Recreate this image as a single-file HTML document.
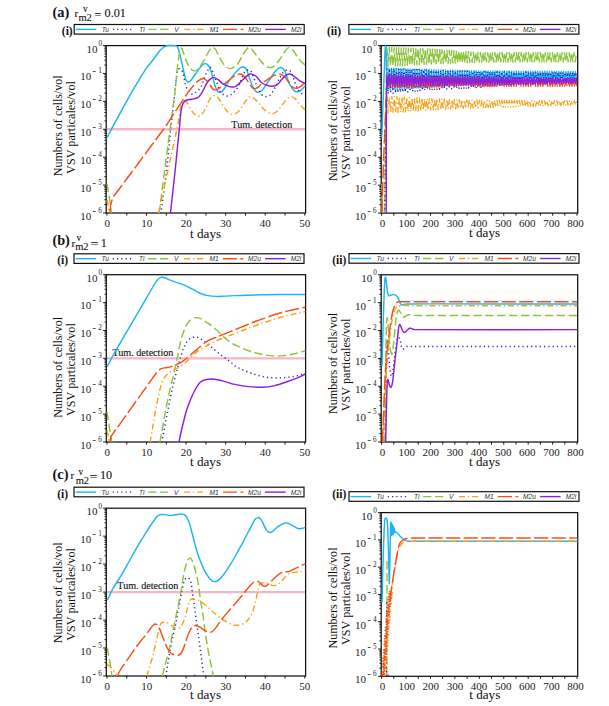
<!DOCTYPE html>
<html><head><meta charset="utf-8"><title>figure</title>
<style>html,body{margin:0;padding:0;background:#fff;overflow:hidden}svg{display:block}</style>
</head><body>
<svg width="609" height="706" viewBox="0 0 609 706">
<rect width="609" height="706" fill="#fff"/>
<clipPath id="clipA1"><rect x="106.2" y="44.6" width="199.40000000000003" height="168.4"/></clipPath>
<path d="M103.00,45.60H106.2 M104.40,65.10H106.2 M104.40,60.19H106.2 M104.40,56.70H106.2 M104.40,54.00H106.2 M104.40,51.79H106.2 M104.40,49.92H106.2 M104.40,48.30H106.2 M104.40,46.88H106.2 M103.00,73.50H106.2 M104.40,93.00H106.2 M104.40,88.09H106.2 M104.40,84.60H106.2 M104.40,81.90H106.2 M104.40,79.69H106.2 M104.40,77.82H106.2 M104.40,76.20H106.2 M104.40,74.78H106.2 M103.00,101.40H106.2 M104.40,120.90H106.2 M104.40,115.99H106.2 M104.40,112.50H106.2 M104.40,109.80H106.2 M104.40,107.59H106.2 M104.40,105.72H106.2 M104.40,104.10H106.2 M104.40,102.68H106.2 M103.00,129.30H106.2 M104.40,148.80H106.2 M104.40,143.89H106.2 M104.40,140.40H106.2 M104.40,137.70H106.2 M104.40,135.49H106.2 M104.40,133.62H106.2 M104.40,132.00H106.2 M104.40,130.58H106.2 M103.00,157.20H106.2 M104.40,176.70H106.2 M104.40,171.79H106.2 M104.40,168.30H106.2 M104.40,165.60H106.2 M104.40,163.39H106.2 M104.40,161.52H106.2 M104.40,159.90H106.2 M104.40,158.48H106.2 M103.00,185.10H106.2 M104.40,204.60H106.2 M104.40,199.69H106.2 M104.40,196.20H106.2 M104.40,193.50H106.2 M104.40,191.29H106.2 M104.40,189.42H106.2 M104.40,187.80H106.2 M104.40,186.38H106.2 M103.00,213.00H106.2 M107.00,213.0V215.60 M126.78,213.0V215.60 M146.56,213.0V215.60 M166.34,213.0V215.60 M186.12,213.0V215.60 M205.90,213.0V215.60 M225.68,213.0V215.60 M245.46,213.0V215.60 M265.24,213.0V215.60 M285.02,213.0V215.60 M304.80,213.0V215.60" stroke="#1a1a1a" stroke-width="1" fill="none"/>
<rect x="106.2" y="45.6" width="199.40" height="167.40" fill="none" stroke="#111" stroke-width="1.25"/>
<text x="97.50" y="52.50" font-family="'Liberation Serif','Times New Roman',serif" font-size="11" text-anchor="end" fill="#1a1a1a">10</text>
<text x="98.40" y="46.00" font-family="'Liberation Serif','Times New Roman',serif" font-size="7.2" fill="#1a1a1a">0</text>
<text x="91.30" y="80.40" font-family="'Liberation Serif','Times New Roman',serif" font-size="11" text-anchor="end" fill="#1a1a1a">10</text>
<text x="92.60" y="74.30" font-family="'Liberation Serif','Times New Roman',serif" font-size="10.2" fill="#1a1a1a">-</text>
<text x="98.20" y="73.40" font-family="'Liberation Serif','Times New Roman',serif" font-size="7.2" fill="#1a1a1a">1</text>
<text x="91.30" y="108.30" font-family="'Liberation Serif','Times New Roman',serif" font-size="11" text-anchor="end" fill="#1a1a1a">10</text>
<text x="92.60" y="102.20" font-family="'Liberation Serif','Times New Roman',serif" font-size="10.2" fill="#1a1a1a">-</text>
<text x="98.20" y="101.30" font-family="'Liberation Serif','Times New Roman',serif" font-size="7.2" fill="#1a1a1a">2</text>
<text x="91.30" y="136.20" font-family="'Liberation Serif','Times New Roman',serif" font-size="11" text-anchor="end" fill="#1a1a1a">10</text>
<text x="92.60" y="130.10" font-family="'Liberation Serif','Times New Roman',serif" font-size="10.2" fill="#1a1a1a">-</text>
<text x="98.20" y="129.20" font-family="'Liberation Serif','Times New Roman',serif" font-size="7.2" fill="#1a1a1a">3</text>
<text x="91.30" y="164.10" font-family="'Liberation Serif','Times New Roman',serif" font-size="11" text-anchor="end" fill="#1a1a1a">10</text>
<text x="92.60" y="158.00" font-family="'Liberation Serif','Times New Roman',serif" font-size="10.2" fill="#1a1a1a">-</text>
<text x="98.20" y="157.10" font-family="'Liberation Serif','Times New Roman',serif" font-size="7.2" fill="#1a1a1a">4</text>
<text x="91.30" y="192.00" font-family="'Liberation Serif','Times New Roman',serif" font-size="11" text-anchor="end" fill="#1a1a1a">10</text>
<text x="92.60" y="185.90" font-family="'Liberation Serif','Times New Roman',serif" font-size="10.2" fill="#1a1a1a">-</text>
<text x="98.20" y="185.00" font-family="'Liberation Serif','Times New Roman',serif" font-size="7.2" fill="#1a1a1a">5</text>
<text x="91.30" y="219.90" font-family="'Liberation Serif','Times New Roman',serif" font-size="11" text-anchor="end" fill="#1a1a1a">10</text>
<text x="92.60" y="213.80" font-family="'Liberation Serif','Times New Roman',serif" font-size="10.2" fill="#1a1a1a">-</text>
<text x="98.20" y="212.90" font-family="'Liberation Serif','Times New Roman',serif" font-size="7.2" fill="#1a1a1a">6</text>
<text x="107.20" y="226.90" font-family="'Liberation Serif','Times New Roman',serif" font-size="11" text-anchor="middle" fill="#1a1a1a">0</text>
<text x="146.72" y="226.90" font-family="'Liberation Serif','Times New Roman',serif" font-size="11" text-anchor="middle" fill="#1a1a1a">10</text>
<text x="186.24" y="226.90" font-family="'Liberation Serif','Times New Roman',serif" font-size="11" text-anchor="middle" fill="#1a1a1a">20</text>
<text x="225.76" y="226.90" font-family="'Liberation Serif','Times New Roman',serif" font-size="11" text-anchor="middle" fill="#1a1a1a">30</text>
<text x="265.28" y="226.90" font-family="'Liberation Serif','Times New Roman',serif" font-size="11" text-anchor="middle" fill="#1a1a1a">40</text>
<text x="304.80" y="226.90" font-family="'Liberation Serif','Times New Roman',serif" font-size="11" text-anchor="middle" fill="#1a1a1a">50</text>
<text x="190.10" y="237.60" font-family="'Liberation Serif','Times New Roman',serif" font-size="11.8" stroke="#111" stroke-width="0.05" textLength="31" lengthAdjust="spacingAndGlyphs" fill="#111">t days</text>
<text transform="translate(62.00,125.80) rotate(-90)" x="-50.5" font-family="'Liberation Serif','Times New Roman',serif" font-size="12.6" textLength="101" lengthAdjust="spacingAndGlyphs" fill="#111">Numbers of cells/vol</text>
<text transform="translate(74.60,127.50) rotate(-90)" x="-46.4" font-family="'Liberation Serif','Times New Roman',serif" font-size="12.6" textLength="92.8" lengthAdjust="spacingAndGlyphs" fill="#111">VSV particales/vol</text>
<clipPath id="clipA2"><rect x="381.2" y="44.6" width="196.50000000000006" height="168.5"/></clipPath>
<path d="M378.00,45.60H381.2 M379.40,65.11H381.2 M379.40,60.20H381.2 M379.40,56.71H381.2 M379.40,54.00H381.2 M379.40,51.79H381.2 M379.40,49.92H381.2 M379.40,48.31H381.2 M379.40,46.88H381.2 M378.00,73.52H381.2 M379.40,93.03H381.2 M379.40,88.11H381.2 M379.40,84.63H381.2 M379.40,81.92H381.2 M379.40,79.71H381.2 M379.40,77.84H381.2 M379.40,76.22H381.2 M379.40,74.79H381.2 M378.00,101.43H381.2 M379.40,120.95H381.2 M379.40,116.03H381.2 M379.40,112.54H381.2 M379.40,109.84H381.2 M379.40,107.63H381.2 M379.40,105.76H381.2 M379.40,104.14H381.2 M379.40,102.71H381.2 M378.00,129.35H381.2 M379.40,148.86H381.2 M379.40,143.95H381.2 M379.40,140.46H381.2 M379.40,137.75H381.2 M379.40,135.54H381.2 M379.40,133.67H381.2 M379.40,132.06H381.2 M379.40,130.63H381.2 M378.00,157.27H381.2 M379.40,176.78H381.2 M379.40,171.86H381.2 M379.40,168.38H381.2 M379.40,165.67H381.2 M379.40,163.46H381.2 M379.40,161.59H381.2 M379.40,159.97H381.2 M379.40,158.54H381.2 M378.00,185.18H381.2 M379.40,204.70H381.2 M379.40,199.78H381.2 M379.40,196.29H381.2 M379.40,193.59H381.2 M379.40,191.38H381.2 M379.40,189.51H381.2 M379.40,187.89H381.2 M379.40,186.46H381.2 M378.00,213.10H381.2 M381.60,213.1V215.70 M393.81,213.1V215.70 M406.03,213.1V215.70 M418.25,213.1V215.70 M430.46,213.1V215.70 M442.68,213.1V215.70 M454.89,213.1V215.70 M467.11,213.1V215.70 M479.32,213.1V215.70 M491.54,213.1V215.70 M503.75,213.1V215.70 M515.97,213.1V215.70 M528.18,213.1V215.70 M540.39,213.1V215.70 M552.61,213.1V215.70 M564.83,213.1V215.70 M577.04,213.1V215.70" stroke="#1a1a1a" stroke-width="1" fill="none"/>
<rect x="381.2" y="45.6" width="196.50" height="167.50" fill="none" stroke="#111" stroke-width="1.25"/>
<text x="372.30" y="52.50" font-family="'Liberation Serif','Times New Roman',serif" font-size="11" text-anchor="end" fill="#1a1a1a">10</text>
<text x="373.20" y="46.00" font-family="'Liberation Serif','Times New Roman',serif" font-size="7.2" fill="#1a1a1a">0</text>
<text x="366.10" y="80.42" font-family="'Liberation Serif','Times New Roman',serif" font-size="11" text-anchor="end" fill="#1a1a1a">10</text>
<text x="367.40" y="74.32" font-family="'Liberation Serif','Times New Roman',serif" font-size="10.2" fill="#1a1a1a">-</text>
<text x="373.00" y="73.42" font-family="'Liberation Serif','Times New Roman',serif" font-size="7.2" fill="#1a1a1a">1</text>
<text x="366.10" y="108.33" font-family="'Liberation Serif','Times New Roman',serif" font-size="11" text-anchor="end" fill="#1a1a1a">10</text>
<text x="367.40" y="102.23" font-family="'Liberation Serif','Times New Roman',serif" font-size="10.2" fill="#1a1a1a">-</text>
<text x="373.00" y="101.33" font-family="'Liberation Serif','Times New Roman',serif" font-size="7.2" fill="#1a1a1a">2</text>
<text x="366.10" y="136.25" font-family="'Liberation Serif','Times New Roman',serif" font-size="11" text-anchor="end" fill="#1a1a1a">10</text>
<text x="367.40" y="130.15" font-family="'Liberation Serif','Times New Roman',serif" font-size="10.2" fill="#1a1a1a">-</text>
<text x="373.00" y="129.25" font-family="'Liberation Serif','Times New Roman',serif" font-size="7.2" fill="#1a1a1a">3</text>
<text x="366.10" y="164.17" font-family="'Liberation Serif','Times New Roman',serif" font-size="11" text-anchor="end" fill="#1a1a1a">10</text>
<text x="367.40" y="158.07" font-family="'Liberation Serif','Times New Roman',serif" font-size="10.2" fill="#1a1a1a">-</text>
<text x="373.00" y="157.17" font-family="'Liberation Serif','Times New Roman',serif" font-size="7.2" fill="#1a1a1a">4</text>
<text x="366.10" y="192.08" font-family="'Liberation Serif','Times New Roman',serif" font-size="11" text-anchor="end" fill="#1a1a1a">10</text>
<text x="367.40" y="185.98" font-family="'Liberation Serif','Times New Roman',serif" font-size="10.2" fill="#1a1a1a">-</text>
<text x="373.00" y="185.08" font-family="'Liberation Serif','Times New Roman',serif" font-size="7.2" fill="#1a1a1a">5</text>
<text x="366.10" y="220.00" font-family="'Liberation Serif','Times New Roman',serif" font-size="11" text-anchor="end" fill="#1a1a1a">10</text>
<text x="367.40" y="213.90" font-family="'Liberation Serif','Times New Roman',serif" font-size="10.2" fill="#1a1a1a">-</text>
<text x="373.00" y="213.00" font-family="'Liberation Serif','Times New Roman',serif" font-size="7.2" fill="#1a1a1a">6</text>
<text x="382.50" y="227.00" font-family="'Liberation Serif','Times New Roman',serif" font-size="11" text-anchor="middle" fill="#1a1a1a">0</text>
<text x="406.64" y="227.00" font-family="'Liberation Serif','Times New Roman',serif" font-size="11" text-anchor="middle" fill="#1a1a1a">100</text>
<text x="430.78" y="227.00" font-family="'Liberation Serif','Times New Roman',serif" font-size="11" text-anchor="middle" fill="#1a1a1a">200</text>
<text x="454.92" y="227.00" font-family="'Liberation Serif','Times New Roman',serif" font-size="11" text-anchor="middle" fill="#1a1a1a">300</text>
<text x="479.06" y="227.00" font-family="'Liberation Serif','Times New Roman',serif" font-size="11" text-anchor="middle" fill="#1a1a1a">400</text>
<text x="503.20" y="227.00" font-family="'Liberation Serif','Times New Roman',serif" font-size="11" text-anchor="middle" fill="#1a1a1a">500</text>
<text x="527.34" y="227.00" font-family="'Liberation Serif','Times New Roman',serif" font-size="11" text-anchor="middle" fill="#1a1a1a">600</text>
<text x="551.48" y="227.00" font-family="'Liberation Serif','Times New Roman',serif" font-size="11" text-anchor="middle" fill="#1a1a1a">700</text>
<text x="575.62" y="227.00" font-family="'Liberation Serif','Times New Roman',serif" font-size="11" text-anchor="middle" fill="#1a1a1a">800</text>
<text x="469.10" y="237.40" font-family="'Liberation Serif','Times New Roman',serif" font-size="11.8" stroke="#111" stroke-width="0.05" textLength="31" lengthAdjust="spacingAndGlyphs" fill="#111">t days</text>
<text transform="translate(337.00,130.60) rotate(-90)" x="-50.5" font-family="'Liberation Serif','Times New Roman',serif" font-size="12.6" textLength="101" lengthAdjust="spacingAndGlyphs" fill="#111">Numbers of cells/vol</text>
<text transform="translate(349.50,132.40) rotate(-90)" x="-46.4" font-family="'Liberation Serif','Times New Roman',serif" font-size="12.6" textLength="92.8" lengthAdjust="spacingAndGlyphs" fill="#111">VSV particales/vol</text>
<clipPath id="clipB1"><rect x="106.3" y="273.7" width="199.3" height="168.3"/></clipPath>
<path d="M103.10,274.70H106.3 M104.50,294.19H106.3 M104.50,289.28H106.3 M104.50,285.80H106.3 M104.50,283.09H106.3 M104.50,280.89H106.3 M104.50,279.02H106.3 M104.50,277.40H106.3 M104.50,275.98H106.3 M103.10,302.58H106.3 M104.50,322.07H106.3 M104.50,317.16H106.3 M104.50,313.68H106.3 M104.50,310.98H106.3 M104.50,308.77H106.3 M104.50,306.90H106.3 M104.50,305.29H106.3 M104.50,303.86H106.3 M103.10,330.47H106.3 M104.50,349.96H106.3 M104.50,345.05H106.3 M104.50,341.56H106.3 M104.50,338.86H106.3 M104.50,336.65H106.3 M104.50,334.79H106.3 M104.50,333.17H106.3 M104.50,331.74H106.3 M103.10,358.35H106.3 M104.50,377.84H106.3 M104.50,372.93H106.3 M104.50,369.45H106.3 M104.50,366.74H106.3 M104.50,364.54H106.3 M104.50,362.67H106.3 M104.50,361.05H106.3 M104.50,359.63H106.3 M103.10,386.23H106.3 M104.50,405.72H106.3 M104.50,400.81H106.3 M104.50,397.33H106.3 M104.50,394.63H106.3 M104.50,392.42H106.3 M104.50,390.55H106.3 M104.50,388.94H106.3 M104.50,387.51H106.3 M103.10,414.12H106.3 M104.50,433.61H106.3 M104.50,428.70H106.3 M104.50,425.21H106.3 M104.50,422.51H106.3 M104.50,420.30H106.3 M104.50,418.44H106.3 M104.50,416.82H106.3 M104.50,415.39H106.3 M103.10,442.00H106.3 M107.00,442.0V444.60 M126.78,442.0V444.60 M146.56,442.0V444.60 M166.34,442.0V444.60 M186.12,442.0V444.60 M205.90,442.0V444.60 M225.68,442.0V444.60 M245.46,442.0V444.60 M265.24,442.0V444.60 M285.02,442.0V444.60 M304.80,442.0V444.60" stroke="#1a1a1a" stroke-width="1" fill="none"/>
<rect x="106.3" y="274.7" width="199.30" height="167.30" fill="none" stroke="#111" stroke-width="1.25"/>
<text x="97.50" y="281.60" font-family="'Liberation Serif','Times New Roman',serif" font-size="11" text-anchor="end" fill="#1a1a1a">10</text>
<text x="98.40" y="275.10" font-family="'Liberation Serif','Times New Roman',serif" font-size="7.2" fill="#1a1a1a">0</text>
<text x="91.30" y="309.48" font-family="'Liberation Serif','Times New Roman',serif" font-size="11" text-anchor="end" fill="#1a1a1a">10</text>
<text x="92.60" y="303.38" font-family="'Liberation Serif','Times New Roman',serif" font-size="10.2" fill="#1a1a1a">-</text>
<text x="98.20" y="302.48" font-family="'Liberation Serif','Times New Roman',serif" font-size="7.2" fill="#1a1a1a">1</text>
<text x="91.30" y="337.37" font-family="'Liberation Serif','Times New Roman',serif" font-size="11" text-anchor="end" fill="#1a1a1a">10</text>
<text x="92.60" y="331.27" font-family="'Liberation Serif','Times New Roman',serif" font-size="10.2" fill="#1a1a1a">-</text>
<text x="98.20" y="330.37" font-family="'Liberation Serif','Times New Roman',serif" font-size="7.2" fill="#1a1a1a">2</text>
<text x="91.30" y="365.25" font-family="'Liberation Serif','Times New Roman',serif" font-size="11" text-anchor="end" fill="#1a1a1a">10</text>
<text x="92.60" y="359.15" font-family="'Liberation Serif','Times New Roman',serif" font-size="10.2" fill="#1a1a1a">-</text>
<text x="98.20" y="358.25" font-family="'Liberation Serif','Times New Roman',serif" font-size="7.2" fill="#1a1a1a">3</text>
<text x="91.30" y="393.13" font-family="'Liberation Serif','Times New Roman',serif" font-size="11" text-anchor="end" fill="#1a1a1a">10</text>
<text x="92.60" y="387.03" font-family="'Liberation Serif','Times New Roman',serif" font-size="10.2" fill="#1a1a1a">-</text>
<text x="98.20" y="386.13" font-family="'Liberation Serif','Times New Roman',serif" font-size="7.2" fill="#1a1a1a">4</text>
<text x="91.30" y="421.02" font-family="'Liberation Serif','Times New Roman',serif" font-size="11" text-anchor="end" fill="#1a1a1a">10</text>
<text x="92.60" y="414.92" font-family="'Liberation Serif','Times New Roman',serif" font-size="10.2" fill="#1a1a1a">-</text>
<text x="98.20" y="414.02" font-family="'Liberation Serif','Times New Roman',serif" font-size="7.2" fill="#1a1a1a">5</text>
<text x="91.30" y="448.90" font-family="'Liberation Serif','Times New Roman',serif" font-size="11" text-anchor="end" fill="#1a1a1a">10</text>
<text x="92.60" y="442.80" font-family="'Liberation Serif','Times New Roman',serif" font-size="10.2" fill="#1a1a1a">-</text>
<text x="98.20" y="441.90" font-family="'Liberation Serif','Times New Roman',serif" font-size="7.2" fill="#1a1a1a">6</text>
<text x="107.20" y="455.90" font-family="'Liberation Serif','Times New Roman',serif" font-size="11" text-anchor="middle" fill="#1a1a1a">0</text>
<text x="146.72" y="455.90" font-family="'Liberation Serif','Times New Roman',serif" font-size="11" text-anchor="middle" fill="#1a1a1a">10</text>
<text x="186.24" y="455.90" font-family="'Liberation Serif','Times New Roman',serif" font-size="11" text-anchor="middle" fill="#1a1a1a">20</text>
<text x="225.76" y="455.90" font-family="'Liberation Serif','Times New Roman',serif" font-size="11" text-anchor="middle" fill="#1a1a1a">30</text>
<text x="265.28" y="455.90" font-family="'Liberation Serif','Times New Roman',serif" font-size="11" text-anchor="middle" fill="#1a1a1a">40</text>
<text x="304.80" y="455.90" font-family="'Liberation Serif','Times New Roman',serif" font-size="11" text-anchor="middle" fill="#1a1a1a">50</text>
<text x="190.00" y="466.10" font-family="'Liberation Serif','Times New Roman',serif" font-size="11.8" stroke="#111" stroke-width="0.05" textLength="31" lengthAdjust="spacingAndGlyphs" fill="#111">t days</text>
<text transform="translate(62.00,367.30) rotate(-90)" x="-50.5" font-family="'Liberation Serif','Times New Roman',serif" font-size="12.6" textLength="101" lengthAdjust="spacingAndGlyphs" fill="#111">Numbers of cells/vol</text>
<text transform="translate(74.60,369.60) rotate(-90)" x="-46.4" font-family="'Liberation Serif','Times New Roman',serif" font-size="12.6" textLength="92.8" lengthAdjust="spacingAndGlyphs" fill="#111">VSV particales/vol</text>
<clipPath id="clipB2"><rect x="381.2" y="273.8" width="196.50000000000006" height="168.2"/></clipPath>
<path d="M378.00,274.80H381.2 M379.40,294.28H381.2 M379.40,289.37H381.2 M379.40,285.89H381.2 M379.40,283.19H381.2 M379.40,280.98H381.2 M379.40,279.12H381.2 M379.40,277.50H381.2 M379.40,276.08H381.2 M378.00,302.67H381.2 M379.40,322.14H381.2 M379.40,317.24H381.2 M379.40,313.76H381.2 M379.40,311.06H381.2 M379.40,308.85H381.2 M379.40,306.98H381.2 M379.40,305.37H381.2 M379.40,303.94H381.2 M378.00,330.53H381.2 M379.40,350.01H381.2 M379.40,345.10H381.2 M379.40,341.62H381.2 M379.40,338.92H381.2 M379.40,336.72H381.2 M379.40,334.85H381.2 M379.40,333.23H381.2 M379.40,331.81H381.2 M378.00,358.40H381.2 M379.40,377.88H381.2 M379.40,372.97H381.2 M379.40,369.49H381.2 M379.40,366.79H381.2 M379.40,364.58H381.2 M379.40,362.72H381.2 M379.40,361.10H381.2 M379.40,359.68H381.2 M378.00,386.27H381.2 M379.40,405.74H381.2 M379.40,400.84H381.2 M379.40,397.36H381.2 M379.40,394.66H381.2 M379.40,392.45H381.2 M379.40,390.58H381.2 M379.40,388.97H381.2 M379.40,387.54H381.2 M378.00,414.13H381.2 M379.40,433.61H381.2 M379.40,428.70H381.2 M379.40,425.22H381.2 M379.40,422.52H381.2 M379.40,420.32H381.2 M379.40,418.45H381.2 M379.40,416.83H381.2 M379.40,415.41H381.2 M378.00,442.00H381.2 M381.60,442.0V444.60 M393.81,442.0V444.60 M406.03,442.0V444.60 M418.25,442.0V444.60 M430.46,442.0V444.60 M442.68,442.0V444.60 M454.89,442.0V444.60 M467.11,442.0V444.60 M479.32,442.0V444.60 M491.54,442.0V444.60 M503.75,442.0V444.60 M515.97,442.0V444.60 M528.18,442.0V444.60 M540.39,442.0V444.60 M552.61,442.0V444.60 M564.83,442.0V444.60 M577.04,442.0V444.60" stroke="#1a1a1a" stroke-width="1" fill="none"/>
<rect x="381.2" y="274.8" width="196.50" height="167.20" fill="none" stroke="#111" stroke-width="1.25"/>
<text x="372.30" y="281.70" font-family="'Liberation Serif','Times New Roman',serif" font-size="11" text-anchor="end" fill="#1a1a1a">10</text>
<text x="373.20" y="275.20" font-family="'Liberation Serif','Times New Roman',serif" font-size="7.2" fill="#1a1a1a">0</text>
<text x="366.10" y="309.57" font-family="'Liberation Serif','Times New Roman',serif" font-size="11" text-anchor="end" fill="#1a1a1a">10</text>
<text x="367.40" y="303.47" font-family="'Liberation Serif','Times New Roman',serif" font-size="10.2" fill="#1a1a1a">-</text>
<text x="373.00" y="302.57" font-family="'Liberation Serif','Times New Roman',serif" font-size="7.2" fill="#1a1a1a">1</text>
<text x="366.10" y="337.43" font-family="'Liberation Serif','Times New Roman',serif" font-size="11" text-anchor="end" fill="#1a1a1a">10</text>
<text x="367.40" y="331.33" font-family="'Liberation Serif','Times New Roman',serif" font-size="10.2" fill="#1a1a1a">-</text>
<text x="373.00" y="330.43" font-family="'Liberation Serif','Times New Roman',serif" font-size="7.2" fill="#1a1a1a">2</text>
<text x="366.10" y="365.30" font-family="'Liberation Serif','Times New Roman',serif" font-size="11" text-anchor="end" fill="#1a1a1a">10</text>
<text x="367.40" y="359.20" font-family="'Liberation Serif','Times New Roman',serif" font-size="10.2" fill="#1a1a1a">-</text>
<text x="373.00" y="358.30" font-family="'Liberation Serif','Times New Roman',serif" font-size="7.2" fill="#1a1a1a">3</text>
<text x="366.10" y="393.17" font-family="'Liberation Serif','Times New Roman',serif" font-size="11" text-anchor="end" fill="#1a1a1a">10</text>
<text x="367.40" y="387.07" font-family="'Liberation Serif','Times New Roman',serif" font-size="10.2" fill="#1a1a1a">-</text>
<text x="373.00" y="386.17" font-family="'Liberation Serif','Times New Roman',serif" font-size="7.2" fill="#1a1a1a">4</text>
<text x="366.10" y="421.03" font-family="'Liberation Serif','Times New Roman',serif" font-size="11" text-anchor="end" fill="#1a1a1a">10</text>
<text x="367.40" y="414.93" font-family="'Liberation Serif','Times New Roman',serif" font-size="10.2" fill="#1a1a1a">-</text>
<text x="373.00" y="414.03" font-family="'Liberation Serif','Times New Roman',serif" font-size="7.2" fill="#1a1a1a">5</text>
<text x="366.10" y="448.90" font-family="'Liberation Serif','Times New Roman',serif" font-size="11" text-anchor="end" fill="#1a1a1a">10</text>
<text x="367.40" y="442.80" font-family="'Liberation Serif','Times New Roman',serif" font-size="10.2" fill="#1a1a1a">-</text>
<text x="373.00" y="441.90" font-family="'Liberation Serif','Times New Roman',serif" font-size="7.2" fill="#1a1a1a">6</text>
<text x="382.50" y="455.90" font-family="'Liberation Serif','Times New Roman',serif" font-size="11" text-anchor="middle" fill="#1a1a1a">0</text>
<text x="406.64" y="455.90" font-family="'Liberation Serif','Times New Roman',serif" font-size="11" text-anchor="middle" fill="#1a1a1a">100</text>
<text x="430.78" y="455.90" font-family="'Liberation Serif','Times New Roman',serif" font-size="11" text-anchor="middle" fill="#1a1a1a">200</text>
<text x="454.92" y="455.90" font-family="'Liberation Serif','Times New Roman',serif" font-size="11" text-anchor="middle" fill="#1a1a1a">300</text>
<text x="479.06" y="455.90" font-family="'Liberation Serif','Times New Roman',serif" font-size="11" text-anchor="middle" fill="#1a1a1a">400</text>
<text x="503.20" y="455.90" font-family="'Liberation Serif','Times New Roman',serif" font-size="11" text-anchor="middle" fill="#1a1a1a">500</text>
<text x="527.34" y="455.90" font-family="'Liberation Serif','Times New Roman',serif" font-size="11" text-anchor="middle" fill="#1a1a1a">600</text>
<text x="551.48" y="455.90" font-family="'Liberation Serif','Times New Roman',serif" font-size="11" text-anchor="middle" fill="#1a1a1a">700</text>
<text x="575.62" y="455.90" font-family="'Liberation Serif','Times New Roman',serif" font-size="11" text-anchor="middle" fill="#1a1a1a">800</text>
<text x="469.10" y="466.10" font-family="'Liberation Serif','Times New Roman',serif" font-size="11.8" stroke="#111" stroke-width="0.05" textLength="31" lengthAdjust="spacingAndGlyphs" fill="#111">t days</text>
<text transform="translate(337.00,363.40) rotate(-90)" x="-50.5" font-family="'Liberation Serif','Times New Roman',serif" font-size="12.6" textLength="101" lengthAdjust="spacingAndGlyphs" fill="#111">Numbers of cells/vol</text>
<text transform="translate(349.50,364.90) rotate(-90)" x="-46.4" font-family="'Liberation Serif','Times New Roman',serif" font-size="12.6" textLength="92.8" lengthAdjust="spacingAndGlyphs" fill="#111">VSV particales/vol</text>
<clipPath id="clipC1"><rect x="106.3" y="507.2" width="199.3" height="168.8"/></clipPath>
<path d="M103.10,508.20H106.3 M104.50,527.75H106.3 M104.50,522.82H106.3 M104.50,519.33H106.3 M104.50,516.62H106.3 M104.50,514.40H106.3 M104.50,512.53H106.3 M104.50,510.91H106.3 M104.50,509.48H106.3 M103.10,536.17H106.3 M104.50,555.71H106.3 M104.50,550.79H106.3 M104.50,547.30H106.3 M104.50,544.59H106.3 M104.50,542.37H106.3 M104.50,540.50H106.3 M104.50,538.88H106.3 M104.50,537.45H106.3 M103.10,564.13H106.3 M104.50,583.68H106.3 M104.50,578.76H106.3 M104.50,575.26H106.3 M104.50,572.55H106.3 M104.50,570.34H106.3 M104.50,568.47H106.3 M104.50,566.84H106.3 M104.50,565.41H106.3 M103.10,592.10H106.3 M104.50,611.65H106.3 M104.50,606.72H106.3 M104.50,603.23H106.3 M104.50,600.52H106.3 M104.50,598.30H106.3 M104.50,596.43H106.3 M104.50,594.81H106.3 M104.50,593.38H106.3 M103.10,620.07H106.3 M104.50,639.61H106.3 M104.50,634.69H106.3 M104.50,631.20H106.3 M104.50,628.49H106.3 M104.50,626.27H106.3 M104.50,624.40H106.3 M104.50,622.78H106.3 M104.50,621.35H106.3 M103.10,648.03H106.3 M104.50,667.58H106.3 M104.50,662.66H106.3 M104.50,659.16H106.3 M104.50,656.45H106.3 M104.50,654.24H106.3 M104.50,652.37H106.3 M104.50,650.74H106.3 M104.50,649.31H106.3 M103.10,676.00H106.3 M107.00,676.0V678.60 M126.78,676.0V678.60 M146.56,676.0V678.60 M166.34,676.0V678.60 M186.12,676.0V678.60 M205.90,676.0V678.60 M225.68,676.0V678.60 M245.46,676.0V678.60 M265.24,676.0V678.60 M285.02,676.0V678.60 M304.80,676.0V678.60" stroke="#1a1a1a" stroke-width="1" fill="none"/>
<rect x="106.3" y="508.2" width="199.30" height="167.80" fill="none" stroke="#111" stroke-width="1.25"/>
<text x="97.50" y="515.10" font-family="'Liberation Serif','Times New Roman',serif" font-size="11" text-anchor="end" fill="#1a1a1a">10</text>
<text x="98.40" y="508.60" font-family="'Liberation Serif','Times New Roman',serif" font-size="7.2" fill="#1a1a1a">0</text>
<text x="91.30" y="543.07" font-family="'Liberation Serif','Times New Roman',serif" font-size="11" text-anchor="end" fill="#1a1a1a">10</text>
<text x="92.60" y="536.97" font-family="'Liberation Serif','Times New Roman',serif" font-size="10.2" fill="#1a1a1a">-</text>
<text x="98.20" y="536.07" font-family="'Liberation Serif','Times New Roman',serif" font-size="7.2" fill="#1a1a1a">1</text>
<text x="91.30" y="571.03" font-family="'Liberation Serif','Times New Roman',serif" font-size="11" text-anchor="end" fill="#1a1a1a">10</text>
<text x="92.60" y="564.93" font-family="'Liberation Serif','Times New Roman',serif" font-size="10.2" fill="#1a1a1a">-</text>
<text x="98.20" y="564.03" font-family="'Liberation Serif','Times New Roman',serif" font-size="7.2" fill="#1a1a1a">2</text>
<text x="91.30" y="599.00" font-family="'Liberation Serif','Times New Roman',serif" font-size="11" text-anchor="end" fill="#1a1a1a">10</text>
<text x="92.60" y="592.90" font-family="'Liberation Serif','Times New Roman',serif" font-size="10.2" fill="#1a1a1a">-</text>
<text x="98.20" y="592.00" font-family="'Liberation Serif','Times New Roman',serif" font-size="7.2" fill="#1a1a1a">3</text>
<text x="91.30" y="626.97" font-family="'Liberation Serif','Times New Roman',serif" font-size="11" text-anchor="end" fill="#1a1a1a">10</text>
<text x="92.60" y="620.87" font-family="'Liberation Serif','Times New Roman',serif" font-size="10.2" fill="#1a1a1a">-</text>
<text x="98.20" y="619.97" font-family="'Liberation Serif','Times New Roman',serif" font-size="7.2" fill="#1a1a1a">4</text>
<text x="91.30" y="654.93" font-family="'Liberation Serif','Times New Roman',serif" font-size="11" text-anchor="end" fill="#1a1a1a">10</text>
<text x="92.60" y="648.83" font-family="'Liberation Serif','Times New Roman',serif" font-size="10.2" fill="#1a1a1a">-</text>
<text x="98.20" y="647.93" font-family="'Liberation Serif','Times New Roman',serif" font-size="7.2" fill="#1a1a1a">5</text>
<text x="91.30" y="682.90" font-family="'Liberation Serif','Times New Roman',serif" font-size="11" text-anchor="end" fill="#1a1a1a">10</text>
<text x="92.60" y="676.80" font-family="'Liberation Serif','Times New Roman',serif" font-size="10.2" fill="#1a1a1a">-</text>
<text x="98.20" y="675.90" font-family="'Liberation Serif','Times New Roman',serif" font-size="7.2" fill="#1a1a1a">6</text>
<text x="107.20" y="689.90" font-family="'Liberation Serif','Times New Roman',serif" font-size="11" text-anchor="middle" fill="#1a1a1a">0</text>
<text x="146.72" y="689.90" font-family="'Liberation Serif','Times New Roman',serif" font-size="11" text-anchor="middle" fill="#1a1a1a">10</text>
<text x="186.24" y="689.90" font-family="'Liberation Serif','Times New Roman',serif" font-size="11" text-anchor="middle" fill="#1a1a1a">20</text>
<text x="225.76" y="689.90" font-family="'Liberation Serif','Times New Roman',serif" font-size="11" text-anchor="middle" fill="#1a1a1a">30</text>
<text x="265.28" y="689.90" font-family="'Liberation Serif','Times New Roman',serif" font-size="11" text-anchor="middle" fill="#1a1a1a">40</text>
<text x="304.80" y="689.90" font-family="'Liberation Serif','Times New Roman',serif" font-size="11" text-anchor="middle" fill="#1a1a1a">50</text>
<text x="190.00" y="699.10" font-family="'Liberation Serif','Times New Roman',serif" font-size="11.8" stroke="#111" stroke-width="0.05" textLength="31" lengthAdjust="spacingAndGlyphs" fill="#111">t days</text>
<text transform="translate(62.00,592.80) rotate(-90)" x="-50.5" font-family="'Liberation Serif','Times New Roman',serif" font-size="12.6" textLength="101" lengthAdjust="spacingAndGlyphs" fill="#111">Numbers of cells/vol</text>
<text transform="translate(74.60,594.40) rotate(-90)" x="-46.4" font-family="'Liberation Serif','Times New Roman',serif" font-size="12.6" textLength="92.8" lengthAdjust="spacingAndGlyphs" fill="#111">VSV particales/vol</text>
<clipPath id="clipC2"><rect x="381.2" y="511.6" width="196.50000000000006" height="164.69999999999993"/></clipPath>
<path d="M378.00,512.60H381.2 M379.40,531.67H381.2 M379.40,526.87H381.2 M379.40,523.46H381.2 M379.40,520.81H381.2 M379.40,518.65H381.2 M379.40,516.83H381.2 M379.40,515.24H381.2 M379.40,513.85H381.2 M378.00,539.88H381.2 M379.40,558.95H381.2 M379.40,554.15H381.2 M379.40,550.74H381.2 M379.40,548.10H381.2 M379.40,545.94H381.2 M379.40,544.11H381.2 M379.40,542.53H381.2 M379.40,541.13H381.2 M378.00,567.17H381.2 M379.40,586.24H381.2 M379.40,581.43H381.2 M379.40,578.02H381.2 M379.40,575.38H381.2 M379.40,573.22H381.2 M379.40,571.39H381.2 M379.40,569.81H381.2 M379.40,568.42H381.2 M378.00,594.45H381.2 M379.40,613.52H381.2 M379.40,608.72H381.2 M379.40,605.31H381.2 M379.40,602.66H381.2 M379.40,600.50H381.2 M379.40,598.68H381.2 M379.40,597.09H381.2 M379.40,595.70H381.2 M378.00,621.73H381.2 M379.40,640.80H381.2 M379.40,636.00H381.2 M379.40,632.59H381.2 M379.40,629.95H381.2 M379.40,627.79H381.2 M379.40,625.96H381.2 M379.40,624.38H381.2 M379.40,622.98H381.2 M378.00,649.02H381.2 M379.40,668.09H381.2 M379.40,663.28H381.2 M379.40,659.87H381.2 M379.40,657.23H381.2 M379.40,655.07H381.2 M379.40,653.24H381.2 M379.40,651.66H381.2 M379.40,650.27H381.2 M378.00,676.30H381.2 M381.60,676.3V678.90 M393.81,676.3V678.90 M406.03,676.3V678.90 M418.25,676.3V678.90 M430.46,676.3V678.90 M442.68,676.3V678.90 M454.89,676.3V678.90 M467.11,676.3V678.90 M479.32,676.3V678.90 M491.54,676.3V678.90 M503.75,676.3V678.90 M515.97,676.3V678.90 M528.18,676.3V678.90 M540.39,676.3V678.90 M552.61,676.3V678.90 M564.83,676.3V678.90 M577.04,676.3V678.90" stroke="#1a1a1a" stroke-width="1" fill="none"/>
<rect x="381.2" y="512.6" width="196.50" height="163.70" fill="none" stroke="#111" stroke-width="1.25"/>
<text x="372.30" y="519.50" font-family="'Liberation Serif','Times New Roman',serif" font-size="11" text-anchor="end" fill="#1a1a1a">10</text>
<text x="373.20" y="513.00" font-family="'Liberation Serif','Times New Roman',serif" font-size="7.2" fill="#1a1a1a">0</text>
<text x="366.10" y="546.78" font-family="'Liberation Serif','Times New Roman',serif" font-size="11" text-anchor="end" fill="#1a1a1a">10</text>
<text x="367.40" y="540.68" font-family="'Liberation Serif','Times New Roman',serif" font-size="10.2" fill="#1a1a1a">-</text>
<text x="373.00" y="539.78" font-family="'Liberation Serif','Times New Roman',serif" font-size="7.2" fill="#1a1a1a">1</text>
<text x="366.10" y="574.07" font-family="'Liberation Serif','Times New Roman',serif" font-size="11" text-anchor="end" fill="#1a1a1a">10</text>
<text x="367.40" y="567.97" font-family="'Liberation Serif','Times New Roman',serif" font-size="10.2" fill="#1a1a1a">-</text>
<text x="373.00" y="567.07" font-family="'Liberation Serif','Times New Roman',serif" font-size="7.2" fill="#1a1a1a">2</text>
<text x="366.10" y="601.35" font-family="'Liberation Serif','Times New Roman',serif" font-size="11" text-anchor="end" fill="#1a1a1a">10</text>
<text x="367.40" y="595.25" font-family="'Liberation Serif','Times New Roman',serif" font-size="10.2" fill="#1a1a1a">-</text>
<text x="373.00" y="594.35" font-family="'Liberation Serif','Times New Roman',serif" font-size="7.2" fill="#1a1a1a">3</text>
<text x="366.10" y="628.63" font-family="'Liberation Serif','Times New Roman',serif" font-size="11" text-anchor="end" fill="#1a1a1a">10</text>
<text x="367.40" y="622.53" font-family="'Liberation Serif','Times New Roman',serif" font-size="10.2" fill="#1a1a1a">-</text>
<text x="373.00" y="621.63" font-family="'Liberation Serif','Times New Roman',serif" font-size="7.2" fill="#1a1a1a">4</text>
<text x="366.10" y="655.92" font-family="'Liberation Serif','Times New Roman',serif" font-size="11" text-anchor="end" fill="#1a1a1a">10</text>
<text x="367.40" y="649.82" font-family="'Liberation Serif','Times New Roman',serif" font-size="10.2" fill="#1a1a1a">-</text>
<text x="373.00" y="648.92" font-family="'Liberation Serif','Times New Roman',serif" font-size="7.2" fill="#1a1a1a">5</text>
<text x="366.10" y="683.20" font-family="'Liberation Serif','Times New Roman',serif" font-size="11" text-anchor="end" fill="#1a1a1a">10</text>
<text x="367.40" y="677.10" font-family="'Liberation Serif','Times New Roman',serif" font-size="10.2" fill="#1a1a1a">-</text>
<text x="373.00" y="676.20" font-family="'Liberation Serif','Times New Roman',serif" font-size="7.2" fill="#1a1a1a">6</text>
<text x="382.50" y="690.20" font-family="'Liberation Serif','Times New Roman',serif" font-size="11" text-anchor="middle" fill="#1a1a1a">0</text>
<text x="406.64" y="690.20" font-family="'Liberation Serif','Times New Roman',serif" font-size="11" text-anchor="middle" fill="#1a1a1a">100</text>
<text x="430.78" y="690.20" font-family="'Liberation Serif','Times New Roman',serif" font-size="11" text-anchor="middle" fill="#1a1a1a">200</text>
<text x="454.92" y="690.20" font-family="'Liberation Serif','Times New Roman',serif" font-size="11" text-anchor="middle" fill="#1a1a1a">300</text>
<text x="479.06" y="690.20" font-family="'Liberation Serif','Times New Roman',serif" font-size="11" text-anchor="middle" fill="#1a1a1a">400</text>
<text x="503.20" y="690.20" font-family="'Liberation Serif','Times New Roman',serif" font-size="11" text-anchor="middle" fill="#1a1a1a">500</text>
<text x="527.34" y="690.20" font-family="'Liberation Serif','Times New Roman',serif" font-size="11" text-anchor="middle" fill="#1a1a1a">600</text>
<text x="551.48" y="690.20" font-family="'Liberation Serif','Times New Roman',serif" font-size="11" text-anchor="middle" fill="#1a1a1a">700</text>
<text x="575.62" y="690.20" font-family="'Liberation Serif','Times New Roman',serif" font-size="11" text-anchor="middle" fill="#1a1a1a">800</text>
<text x="469.30" y="699.10" font-family="'Liberation Serif','Times New Roman',serif" font-size="11.8" stroke="#111" stroke-width="0.05" textLength="31" lengthAdjust="spacingAndGlyphs" fill="#111">t days</text>
<text transform="translate(337.00,598.00) rotate(-90)" x="-50.5" font-family="'Liberation Serif','Times New Roman',serif" font-size="12.6" textLength="101" lengthAdjust="spacingAndGlyphs" fill="#111">Numbers of cells/vol</text>
<text transform="translate(349.50,598.60) rotate(-90)" x="-46.4" font-family="'Liberation Serif','Times New Roman',serif" font-size="12.6" textLength="92.8" lengthAdjust="spacingAndGlyphs" fill="#111">VSV particales/vol</text>
<text x="52.4" y="17.0" font-family="'Liberation Serif','Times New Roman',serif" font-size="14.4" font-weight="bold" fill="#111">(a)</text>
<text x="74.4" y="16.8" font-family="'Liberation Serif','Times New Roman',serif" font-size="11.2" fill="#111" stroke="#111" stroke-width="0.1">r</text>
<text x="83.0" y="11.6" font-family="'Liberation Serif','Times New Roman',serif" font-size="9.5" fill="#111" stroke="#111" stroke-width="0.1">v</text>
<text x="78.4" y="20.6" font-family="'Liberation Serif','Times New Roman',serif" font-size="10.5" fill="#111" stroke="#111" stroke-width="0.1">m2</text>
<text x="94.4" y="19.1" font-family="'Liberation Serif','Times New Roman',serif" font-size="13.5" textLength="6.8" lengthAdjust="spacingAndGlyphs" fill="#111" stroke="#111" stroke-width="0.1">=</text>
<text x="104.6" y="16.8" font-family="'Liberation Serif','Times New Roman',serif" font-size="12.2" fill="#111" stroke="#111" stroke-width="0.1">0.01</text>
<text x="52.4" y="245.4" font-family="'Liberation Serif','Times New Roman',serif" font-size="14.3" font-weight="bold" fill="#111">(b)</text>
<text x="71.6" y="247.2" font-family="'Liberation Serif','Times New Roman',serif" font-size="11.2" fill="#111" stroke="#111" stroke-width="0.1">r</text>
<text x="76.4" y="240.7" font-family="'Liberation Serif','Times New Roman',serif" font-size="9.5" fill="#111" stroke="#111" stroke-width="0.1">v</text>
<text x="75.2" y="250.0" font-family="'Liberation Serif','Times New Roman',serif" font-size="10.5" fill="#111" stroke="#111" stroke-width="0.1">m2</text>
<text x="90.4" y="248.0" font-family="'Liberation Serif','Times New Roman',serif" font-size="13.5" textLength="8.0" lengthAdjust="spacingAndGlyphs" fill="#111" stroke="#111" stroke-width="0.1">=</text>
<text x="100.8" y="247.2" font-family="'Liberation Serif','Times New Roman',serif" font-size="12.2" fill="#111" stroke="#111" stroke-width="0.1">1</text>
<text x="52.5" y="478.9" font-family="'Liberation Serif','Times New Roman',serif" font-size="14.4" font-weight="bold" fill="#111">(c)</text>
<text x="70.4" y="479.0" font-family="'Liberation Serif','Times New Roman',serif" font-size="11.2" fill="#111" stroke="#111" stroke-width="0.1">r</text>
<text x="78.6" y="474.7" font-family="'Liberation Serif','Times New Roman',serif" font-size="9.5" fill="#111" stroke="#111" stroke-width="0.1">v</text>
<text x="75.7" y="483.9" font-family="'Liberation Serif','Times New Roman',serif" font-size="10.5" fill="#111" stroke="#111" stroke-width="0.1">m2</text>
<text x="89.6" y="481.3" font-family="'Liberation Serif','Times New Roman',serif" font-size="13.5" textLength="8.0" lengthAdjust="spacingAndGlyphs" fill="#111" stroke="#111" stroke-width="0.1">=</text>
<text x="100.0" y="479.0" font-family="'Liberation Serif','Times New Roman',serif" font-size="12.2" fill="#111" stroke="#111" stroke-width="0.1">10</text>
<text x="61.8" y="34.8" font-family="'Liberation Serif','Times New Roman',serif" font-size="11.5" font-weight="bold" fill="#111">(i)</text>
<rect x="74.2" y="24.5" width="230.0" height="9.6" fill="#fff" stroke="#111" stroke-width="1.2"/>
<path d="M75.80,29.40h20.5" stroke="#1bb5f3" stroke-width="1.4"/>
<text x="101.80" y="31.80" font-family="'Liberation Sans',Arial,sans-serif" font-size="6.6" font-style="italic" fill="#333">Tu</text>
<path d="M112.90,29.40h20.5" stroke="#2a1fb8" stroke-width="1.4" stroke-dasharray="1.2 3.1"/>
<text x="139.30" y="31.80" font-family="'Liberation Sans',Arial,sans-serif" font-size="6.6" font-style="italic" fill="#333">Ti</text>
<path d="M148.30,29.40h20.5" stroke="#8cc43c" stroke-width="1.4" stroke-dasharray="8.3 3.6"/>
<text x="174.30" y="31.80" font-family="'Liberation Sans',Arial,sans-serif" font-size="6.6" font-style="italic" fill="#333">V</text>
<path d="M184.20,29.40h20.5" stroke="#f7a21b" stroke-width="1.4" stroke-dasharray="6 2.9 1.3 2.9"/>
<text x="209.80" y="31.80" font-family="'Liberation Sans',Arial,sans-serif" font-size="6.6" font-style="italic" fill="#333">M1</text>
<path d="M223.00,29.40h20.5" stroke="#fb4e14" stroke-width="1.4" stroke-dasharray="14.2 3.4"/>
<text x="248.20" y="31.80" font-family="'Liberation Sans',Arial,sans-serif" font-size="6.6" font-style="italic" fill="#333">M2u</text>
<path d="M265.30,29.40h20.5" stroke="#8c1ee0" stroke-width="1.4"/>
<text x="290.90" y="31.80" font-family="'Liberation Sans',Arial,sans-serif" font-size="6.6" font-style="italic" fill="#333">M2i</text>
<text x="327.0" y="34.6" font-family="'Liberation Serif','Times New Roman',serif" font-size="11.5" font-weight="bold" fill="#111">(ii)</text>
<rect x="348.9" y="24.5" width="230.0" height="9.6" fill="#fff" stroke="#111" stroke-width="1.2"/>
<path d="M350.50,29.40h20.5" stroke="#1bb5f3" stroke-width="1.4"/>
<text x="376.50" y="31.80" font-family="'Liberation Sans',Arial,sans-serif" font-size="6.6" font-style="italic" fill="#333">Tu</text>
<path d="M387.60,29.40h20.5" stroke="#2a1fb8" stroke-width="1.4" stroke-dasharray="1.2 3.1"/>
<text x="414.00" y="31.80" font-family="'Liberation Sans',Arial,sans-serif" font-size="6.6" font-style="italic" fill="#333">Ti</text>
<path d="M423.00,29.40h20.5" stroke="#8cc43c" stroke-width="1.4" stroke-dasharray="8.3 3.6"/>
<text x="449.00" y="31.80" font-family="'Liberation Sans',Arial,sans-serif" font-size="6.6" font-style="italic" fill="#333">V</text>
<path d="M458.90,29.40h20.5" stroke="#f7a21b" stroke-width="1.4" stroke-dasharray="6 2.9 1.3 2.9"/>
<text x="484.50" y="31.80" font-family="'Liberation Sans',Arial,sans-serif" font-size="6.6" font-style="italic" fill="#333">M1</text>
<path d="M497.70,29.40h20.5" stroke="#fb4e14" stroke-width="1.4" stroke-dasharray="14.2 3.4"/>
<text x="522.90" y="31.80" font-family="'Liberation Sans',Arial,sans-serif" font-size="6.6" font-style="italic" fill="#333">M2u</text>
<path d="M540.00,29.40h20.5" stroke="#8c1ee0" stroke-width="1.4"/>
<text x="565.60" y="31.80" font-family="'Liberation Sans',Arial,sans-serif" font-size="6.6" font-style="italic" fill="#333">M2i</text>
<text x="57.2" y="264.2" font-family="'Liberation Serif','Times New Roman',serif" font-size="11.5" font-weight="bold" fill="#111">(i)</text>
<rect x="74.0" y="253.8" width="230.0" height="9.6" fill="#fff" stroke="#111" stroke-width="1.2"/>
<path d="M75.60,258.70h20.5" stroke="#1bb5f3" stroke-width="1.4"/>
<text x="101.60" y="261.10" font-family="'Liberation Sans',Arial,sans-serif" font-size="6.6" font-style="italic" fill="#333">Tu</text>
<path d="M112.70,258.70h20.5" stroke="#2a1fb8" stroke-width="1.4" stroke-dasharray="1.2 3.1"/>
<text x="139.10" y="261.10" font-family="'Liberation Sans',Arial,sans-serif" font-size="6.6" font-style="italic" fill="#333">Ti</text>
<path d="M148.10,258.70h20.5" stroke="#8cc43c" stroke-width="1.4" stroke-dasharray="8.3 3.6"/>
<text x="174.10" y="261.10" font-family="'Liberation Sans',Arial,sans-serif" font-size="6.6" font-style="italic" fill="#333">V</text>
<path d="M184.00,258.70h20.5" stroke="#f7a21b" stroke-width="1.4" stroke-dasharray="6 2.9 1.3 2.9"/>
<text x="209.60" y="261.10" font-family="'Liberation Sans',Arial,sans-serif" font-size="6.6" font-style="italic" fill="#333">M1</text>
<path d="M222.80,258.70h20.5" stroke="#fb4e14" stroke-width="1.4" stroke-dasharray="14.2 3.4"/>
<text x="248.00" y="261.10" font-family="'Liberation Sans',Arial,sans-serif" font-size="6.6" font-style="italic" fill="#333">M2u</text>
<path d="M265.10,258.70h20.5" stroke="#8c1ee0" stroke-width="1.4"/>
<text x="290.70" y="261.10" font-family="'Liberation Sans',Arial,sans-serif" font-size="6.6" font-style="italic" fill="#333">M2i</text>
<text x="332.2" y="263.9" font-family="'Liberation Serif','Times New Roman',serif" font-size="11.5" font-weight="bold" fill="#111">(ii)</text>
<rect x="349.0" y="253.6" width="230.0" height="9.6" fill="#fff" stroke="#111" stroke-width="1.2"/>
<path d="M350.60,258.50h20.5" stroke="#1bb5f3" stroke-width="1.4"/>
<text x="376.60" y="260.90" font-family="'Liberation Sans',Arial,sans-serif" font-size="6.6" font-style="italic" fill="#333">Tu</text>
<path d="M387.70,258.50h20.5" stroke="#2a1fb8" stroke-width="1.4" stroke-dasharray="1.2 3.1"/>
<text x="414.10" y="260.90" font-family="'Liberation Sans',Arial,sans-serif" font-size="6.6" font-style="italic" fill="#333">Ti</text>
<path d="M423.10,258.50h20.5" stroke="#8cc43c" stroke-width="1.4" stroke-dasharray="8.3 3.6"/>
<text x="449.10" y="260.90" font-family="'Liberation Sans',Arial,sans-serif" font-size="6.6" font-style="italic" fill="#333">V</text>
<path d="M459.00,258.50h20.5" stroke="#f7a21b" stroke-width="1.4" stroke-dasharray="6 2.9 1.3 2.9"/>
<text x="484.60" y="260.90" font-family="'Liberation Sans',Arial,sans-serif" font-size="6.6" font-style="italic" fill="#333">M1</text>
<path d="M497.80,258.50h20.5" stroke="#fb4e14" stroke-width="1.4" stroke-dasharray="14.2 3.4"/>
<text x="523.00" y="260.90" font-family="'Liberation Sans',Arial,sans-serif" font-size="6.6" font-style="italic" fill="#333">M2u</text>
<path d="M540.10,258.50h20.5" stroke="#8c1ee0" stroke-width="1.4"/>
<text x="565.70" y="260.90" font-family="'Liberation Sans',Arial,sans-serif" font-size="6.6" font-style="italic" fill="#333">M2i</text>
<text x="57.2" y="497.6" font-family="'Liberation Serif','Times New Roman',serif" font-size="11.5" font-weight="bold" fill="#111">(i)</text>
<rect x="74.0" y="487.2" width="230.0" height="9.6" fill="#fff" stroke="#111" stroke-width="1.2"/>
<path d="M75.60,492.10h20.5" stroke="#1bb5f3" stroke-width="1.4"/>
<text x="101.60" y="494.50" font-family="'Liberation Sans',Arial,sans-serif" font-size="6.6" font-style="italic" fill="#333">Tu</text>
<path d="M112.70,492.10h20.5" stroke="#2a1fb8" stroke-width="1.4" stroke-dasharray="1.2 3.1"/>
<text x="139.10" y="494.50" font-family="'Liberation Sans',Arial,sans-serif" font-size="6.6" font-style="italic" fill="#333">Ti</text>
<path d="M148.10,492.10h20.5" stroke="#8cc43c" stroke-width="1.4" stroke-dasharray="8.3 3.6"/>
<text x="174.10" y="494.50" font-family="'Liberation Sans',Arial,sans-serif" font-size="6.6" font-style="italic" fill="#333">V</text>
<path d="M184.00,492.10h20.5" stroke="#f7a21b" stroke-width="1.4" stroke-dasharray="6 2.9 1.3 2.9"/>
<text x="209.60" y="494.50" font-family="'Liberation Sans',Arial,sans-serif" font-size="6.6" font-style="italic" fill="#333">M1</text>
<path d="M222.80,492.10h20.5" stroke="#fb4e14" stroke-width="1.4" stroke-dasharray="14.2 3.4"/>
<text x="248.00" y="494.50" font-family="'Liberation Sans',Arial,sans-serif" font-size="6.6" font-style="italic" fill="#333">M2u</text>
<path d="M265.10,492.10h20.5" stroke="#8c1ee0" stroke-width="1.4"/>
<text x="290.70" y="494.50" font-family="'Liberation Sans',Arial,sans-serif" font-size="6.6" font-style="italic" fill="#333">M2i</text>
<text x="332.2" y="498.4" font-family="'Liberation Serif','Times New Roman',serif" font-size="11.5" font-weight="bold" fill="#111">(ii)</text>
<rect x="349.0" y="491.7" width="230.0" height="9.6" fill="#fff" stroke="#111" stroke-width="1.2"/>
<path d="M350.60,496.60h20.5" stroke="#1bb5f3" stroke-width="1.4"/>
<text x="376.60" y="499.00" font-family="'Liberation Sans',Arial,sans-serif" font-size="6.6" font-style="italic" fill="#333">Tu</text>
<path d="M387.70,496.60h20.5" stroke="#2a1fb8" stroke-width="1.4" stroke-dasharray="1.2 3.1"/>
<text x="414.10" y="499.00" font-family="'Liberation Sans',Arial,sans-serif" font-size="6.6" font-style="italic" fill="#333">Ti</text>
<path d="M423.10,496.60h20.5" stroke="#8cc43c" stroke-width="1.4" stroke-dasharray="8.3 3.6"/>
<text x="449.10" y="499.00" font-family="'Liberation Sans',Arial,sans-serif" font-size="6.6" font-style="italic" fill="#333">V</text>
<path d="M459.00,496.60h20.5" stroke="#f7a21b" stroke-width="1.4" stroke-dasharray="6 2.9 1.3 2.9"/>
<text x="484.60" y="499.00" font-family="'Liberation Sans',Arial,sans-serif" font-size="6.6" font-style="italic" fill="#333">M1</text>
<path d="M497.80,496.60h20.5" stroke="#fb4e14" stroke-width="1.4" stroke-dasharray="14.2 3.4"/>
<text x="523.00" y="499.00" font-family="'Liberation Sans',Arial,sans-serif" font-size="6.6" font-style="italic" fill="#333">M2u</text>
<path d="M540.10,496.60h20.5" stroke="#8c1ee0" stroke-width="1.4"/>
<text x="565.70" y="499.00" font-family="'Liberation Sans',Arial,sans-serif" font-size="6.6" font-style="italic" fill="#333">M2i</text>
<path d="M106.80,129.30H305.00" stroke="#f7b5c4" stroke-width="2.4"/>
<text x="231.3" y="127.7" font-family="'Liberation Serif','Times New Roman',serif" font-size="10" stroke="#111" stroke-width="0.12" textLength="61" lengthAdjust="spacingAndGlyphs" fill="#111">Tum. detection</text>
<path d="M107.20,137.30 C109.20,133.47 111.16,129.61 113.20,125.80 C115.89,120.78 118.67,115.80 121.40,110.80 C124.13,105.80 126.79,100.76 129.60,95.80 C132.26,91.12 135.00,86.49 137.80,81.90 C140.47,77.53 143.06,73.10 146.00,68.90 C148.57,65.22 151.58,61.87 154.30,58.30 C156.25,55.74 157.85,52.89 160.00,50.50 C161.47,48.86 163.14,47.30 165.10,46.30 C166.64,45.51 168.47,45.42 170.20,45.30 C171.90,45.18 173.63,45.29 175.30,45.60 C176.00,45.73 176.81,46.00 177.20,46.60 C178.15,48.07 178.59,49.82 179.10,51.50 C179.86,54.00 180.40,56.56 181.00,59.10 C181.70,62.09 182.31,65.11 183.00,68.10 C183.81,71.57 184.41,75.11 185.50,78.50 C185.89,79.71 186.32,81.13 187.40,81.80 C188.15,82.27 189.32,81.86 190.00,81.30 C191.38,80.16 192.13,78.43 193.20,77.00 C194.47,75.30 195.73,73.60 197.00,71.90 C198.27,70.20 199.42,68.41 200.80,66.80 C201.63,65.83 202.54,64.91 203.60,64.20 C204.18,63.81 204.93,63.42 205.60,63.60 C206.72,63.90 207.81,64.57 208.50,65.50 C209.61,67.00 210.19,68.84 210.80,70.60 C211.69,73.18 212.25,75.87 213.00,78.50 C213.75,81.14 214.39,83.81 215.30,86.40 C215.89,88.09 216.25,90.02 217.50,91.30 C218.32,92.13 219.81,92.52 220.90,92.10 C222.40,91.53 223.34,89.98 224.30,88.70 C225.62,86.93 226.49,84.85 227.70,83.00 C228.96,81.08 230.32,79.23 231.70,77.40 C233.16,75.47 234.57,73.49 236.20,71.70 C237.61,70.15 238.97,68.43 240.80,67.40 C241.79,66.84 243.13,66.82 244.20,67.20 C245.18,67.55 245.88,68.50 246.40,69.40 C247.21,70.82 247.56,72.46 248.10,74.00 C248.89,76.26 249.55,78.56 250.40,80.80 C251.28,83.10 252.08,85.46 253.30,87.60 C254.23,89.23 255.08,91.27 256.80,92.00 C258.21,92.60 260.07,91.92 261.30,91.00 C263.24,89.55 264.38,87.26 265.80,85.30 C267.41,83.09 268.88,80.77 270.40,78.50 C271.91,76.24 273.16,73.79 274.90,71.70 C276.18,70.16 277.56,68.49 279.40,67.70 C280.46,67.25 281.86,67.64 282.80,68.30 C283.92,69.09 284.54,70.45 285.10,71.70 C286.08,73.88 286.53,76.27 287.40,78.50 C288.44,81.17 289.31,83.95 290.80,86.40 C291.98,88.34 293.28,90.47 295.30,91.50 C296.64,92.19 298.41,91.60 299.80,91.00 C301.17,90.41 302.15,89.15 303.20,88.10 C304.05,87.25 304.73,86.23 305.50,85.30" fill="none" stroke="#1bb5f3" stroke-width="1.45" clip-path="url(#clipA1)" stroke-linejoin="round"/>
<path d="M160.80,213.80 C161.87,205.87 162.97,197.94 164.00,190.00 C165.21,180.67 166.47,171.35 167.50,162.00 C168.74,150.68 169.61,139.32 170.80,128.00 C171.38,122.46 172.17,116.94 172.80,111.40 C173.47,105.47 174.04,99.53 174.70,93.60 C175.31,88.06 175.87,82.52 176.60,77.00 C176.94,74.42 176.61,71.56 177.90,69.30 C178.41,68.40 180.18,68.67 181.00,69.30 C182.16,70.19 182.59,71.80 183.00,73.20 C184.10,76.93 184.43,80.86 185.50,84.60 C186.13,86.81 186.82,89.08 188.10,91.00 C189.02,92.38 190.27,93.92 191.90,94.20 C193.30,94.44 194.59,93.18 195.70,92.30 C197.59,90.81 199.59,89.28 200.80,87.20 C202.62,84.06 203.19,80.34 204.60,77.00 C205.76,74.27 207.03,71.58 208.50,69.00 C208.91,68.28 209.61,66.62 210.20,67.20 C212.01,68.97 212.60,71.67 213.60,74.00 C214.87,76.95 215.87,80.00 217.00,83.00 C218.14,86.03 218.79,89.29 220.40,92.10 C221.13,93.37 222.53,94.17 223.80,94.90 C224.83,95.49 226.01,96.00 227.20,96.00 C228.39,96.00 229.57,95.49 230.60,94.90 C231.87,94.17 233.00,93.17 234.00,92.10 C235.28,90.72 236.43,89.21 237.40,87.60 C238.71,85.43 239.74,83.10 240.80,80.80 C242.00,78.20 242.67,75.33 244.20,72.90 C244.99,71.64 246.20,70.52 247.60,70.00 C248.49,69.67 249.77,69.89 250.40,70.60 C251.81,72.18 252.38,74.35 253.20,76.30 C254.45,79.25 255.34,82.35 256.60,85.30 C257.44,87.26 258.51,89.11 259.50,91.00 C260.08,92.11 260.36,93.47 261.30,94.30 C262.56,95.42 264.13,96.36 265.80,96.60 C267.17,96.79 268.75,96.40 269.80,95.50 C271.57,94.00 272.62,91.80 273.80,89.80 C275.09,87.62 276.07,85.27 277.20,83.00 C278.33,80.73 279.29,78.37 280.60,76.20 C281.57,74.59 282.61,72.97 284.00,71.70 C284.94,70.85 286.13,70.00 287.40,70.00 C288.67,70.00 290.05,70.68 290.80,71.70 C292.24,73.68 292.73,76.21 293.60,78.50 C294.59,81.11 295.24,83.86 296.40,86.40 C297.32,88.41 298.36,90.42 299.80,92.10 C300.68,93.12 302.04,93.61 303.20,94.30 C303.94,94.74 304.73,95.10 305.50,95.50" fill="none" stroke="#2a1fb8" stroke-width="1.45" stroke-dasharray="1.2 3.1" clip-path="url(#clipA1)" stroke-linejoin="round"/>
<path d="M107.00,184.00 C107.83,189.00 108.72,193.99 109.50,199.00 C110.25,203.83 110.90,208.67 111.60,213.50" fill="none" stroke="#8cc43c" stroke-width="1.45" stroke-dasharray="8.3 3.6" clip-path="url(#clipA1)" stroke-linejoin="round"/>
<path d="M159.20,213.80 C160.00,207.20 160.77,200.60 161.60,194.00 C163.03,182.66 164.52,171.33 166.00,160.00 C167.39,149.33 168.78,138.66 170.20,128.00 C171.05,121.63 171.98,115.27 172.80,108.90 C173.68,102.11 174.54,95.31 175.30,88.50 C176.01,82.11 176.47,75.69 177.20,69.30 C177.74,64.62 178.26,59.93 179.10,55.30 C179.53,52.92 179.27,49.99 181.00,48.30 C181.90,47.42 182.52,50.34 183.00,51.50 C184.03,53.96 184.48,56.63 185.50,59.10 C186.59,61.75 187.71,64.42 189.30,66.80 C190.31,68.31 191.52,69.90 193.20,70.60 C194.38,71.09 195.94,70.71 197.00,70.00 C198.63,68.91 199.67,67.11 200.80,65.50 C202.18,63.53 203.32,61.40 204.50,59.30 C206.08,56.49 207.30,53.47 209.10,50.80 C209.99,49.47 210.95,47.82 212.50,47.40 C213.55,47.11 214.66,48.22 215.30,49.10 C216.79,51.15 217.49,53.67 218.70,55.90 C219.93,58.17 221.12,60.48 222.60,62.60 C223.76,64.27 225.02,65.92 226.60,67.20 C227.55,67.97 228.77,68.60 230.00,68.60 C231.41,68.60 232.85,68.01 234.00,67.20 C235.75,65.96 237.25,64.34 238.50,62.60 C240.27,60.14 241.43,57.29 243.00,54.70 C244.06,52.95 245.05,51.14 246.40,49.60 C247.22,48.67 248.17,47.28 249.40,47.40 C250.81,47.54 251.66,49.14 252.60,50.20 C254.07,51.85 255.25,53.75 256.60,55.50 C258.15,57.51 259.63,59.59 261.30,61.50 C262.70,63.10 264.05,64.81 265.80,66.00 C267.15,66.92 268.77,67.79 270.40,67.70 C272.07,67.61 273.68,66.64 274.90,65.50 C277.17,63.37 278.78,60.63 280.60,58.10 C282.19,55.89 283.41,53.43 285.10,51.30 C286.26,49.84 287.26,47.66 289.10,47.40 C290.69,47.18 291.95,49.00 293.00,50.20 C294.79,52.25 295.89,54.81 297.50,57.00 C298.93,58.95 300.41,60.87 302.10,62.60 C303.10,63.62 304.37,64.33 305.50,65.20" fill="none" stroke="#8cc43c" stroke-width="1.45" stroke-dasharray="8.3 3.6" clip-path="url(#clipA1)" stroke-linejoin="round"/>
<path d="M107.00,200.00 C107.40,202.00 107.87,203.99 108.20,206.00 C108.61,208.49 108.87,211.00 109.20,213.50" fill="none" stroke="#f7a21b" stroke-width="1.45" stroke-dasharray="6 2.9 1.3 2.9" clip-path="url(#clipA1)" stroke-linejoin="round"/>
<path d="M158.40,213.80 C159.97,206.67 161.53,199.53 163.10,192.40 C164.67,185.27 166.23,178.13 167.80,171.00 C169.36,163.90 170.96,156.81 172.50,149.70 C173.89,143.30 175.28,136.91 176.60,130.50 C177.25,127.34 177.85,124.18 178.40,121.00 C178.92,118.01 179.27,114.99 179.80,112.00 C180.24,109.49 180.62,106.96 181.30,104.50 C181.75,102.87 181.61,100.38 183.20,99.80 C184.61,99.29 185.85,101.34 186.80,102.50 C188.37,104.42 189.23,106.83 190.60,108.90 C191.77,110.67 192.87,112.53 194.40,114.00 C195.49,115.05 196.79,116.30 198.30,116.30 C199.78,116.30 201.13,115.12 202.10,114.00 C203.73,112.13 204.76,109.80 205.90,107.60 C207.09,105.30 207.76,102.72 209.10,100.50 C210.15,98.76 211.16,96.66 213.00,95.80 C214.24,95.22 215.88,96.00 217.00,96.80 C218.49,97.86 219.37,99.59 220.40,101.10 C221.64,102.93 222.54,104.98 223.80,106.80 C225.18,108.79 226.43,110.96 228.30,112.50 C229.54,113.52 231.20,114.20 232.80,114.20 C234.43,114.20 236.13,113.53 237.40,112.50 C239.28,110.97 240.49,108.76 241.90,106.80 C243.49,104.59 244.66,102.09 246.40,100.00 C247.52,98.66 248.67,96.84 250.40,96.60 C251.95,96.39 253.27,97.93 254.50,98.90 C256.19,100.22 257.67,101.80 259.10,103.40 C260.71,105.21 261.90,107.38 263.60,109.10 C264.92,110.44 266.42,111.66 268.10,112.50 C269.48,113.19 271.07,113.80 272.60,113.60 C274.30,113.38 275.91,112.42 277.20,111.30 C279.01,109.73 280.21,107.57 281.70,105.70 C283.21,103.81 284.49,101.71 286.20,100.00 C287.55,98.65 288.91,96.83 290.80,96.60 C292.47,96.40 294.03,97.79 295.30,98.90 C297.10,100.48 298.22,102.70 299.80,104.50 C301.22,106.11 302.73,107.64 304.30,109.10 C304.64,109.42 305.10,109.57 305.50,109.80" fill="none" stroke="#f7a21b" stroke-width="1.45" stroke-dasharray="6 2.9 1.3 2.9" clip-path="url(#clipA1)" stroke-linejoin="round"/>
<path d="M109.60,213.50 C109.93,211.00 110.19,208.49 110.60,206.00 C110.85,204.48 111.16,202.97 111.60,201.50 C112.03,200.03 112.39,198.50 113.20,197.20 C115.21,193.96 117.73,191.07 120.00,188.00 C123.33,183.50 126.67,179.00 130.00,174.50 C133.33,170.00 136.67,165.50 140.00,161.00 C143.33,156.50 146.67,152.00 150.00,147.50 C153.33,143.00 156.68,138.51 160.00,134.00 C162.21,131.01 164.50,128.07 166.60,125.00 C168.77,121.83 170.71,118.52 172.80,115.30 C175.31,111.45 177.86,107.63 180.40,103.80 C182.96,99.96 185.42,96.05 188.10,92.30 C189.69,90.08 191.39,87.94 193.20,85.90 C194.80,84.10 196.35,82.21 198.30,80.80 C199.81,79.70 201.54,78.50 203.40,78.50 C204.77,78.50 205.83,79.83 206.80,80.80 C208.13,82.13 209.04,83.82 210.20,85.30 C211.31,86.72 212.02,88.63 213.60,89.50 C214.74,90.13 216.32,89.85 217.50,89.30 C219.46,88.39 220.90,86.64 222.60,85.30 C224.50,83.80 226.40,82.30 228.30,80.80 C230.20,79.30 231.93,77.55 234.00,76.30 C235.73,75.26 237.60,74.27 239.60,74.00 C240.78,73.84 242.05,74.39 243.00,75.10 C244.40,76.15 245.37,77.68 246.40,79.10 C247.65,80.82 248.51,82.81 249.80,84.50 C250.92,85.96 251.86,87.90 253.60,88.50 C255.01,88.99 256.63,88.08 257.90,87.30 C259.69,86.20 260.86,84.32 262.50,83.00 C264.27,81.57 266.19,80.33 268.10,79.10 C269.96,77.90 271.78,76.61 273.80,75.70 C275.58,74.90 277.45,73.90 279.40,74.00 C281.10,74.08 282.72,75.09 284.00,76.20 C285.83,77.79 286.98,80.02 288.50,81.90 C289.98,83.72 291.07,85.97 293.00,87.30 C294.25,88.16 296.01,88.43 297.50,88.10 C299.25,87.71 300.67,86.39 302.10,85.30 C303.36,84.34 304.37,83.10 305.50,82.00" fill="none" stroke="#fb4e14" stroke-width="1.45" stroke-dasharray="14.2 3.4" clip-path="url(#clipA1)" stroke-linejoin="round"/>
<path d="M170.40,213.80 C171.27,205.87 172.14,197.93 173.00,190.00 C173.84,182.33 174.70,174.67 175.50,167.00 C176.37,158.67 177.17,150.33 178.00,142.00 C178.57,136.33 179.17,130.67 179.70,125.00 C179.97,122.17 180.08,119.32 180.40,116.50 C180.74,113.52 181.03,110.52 181.70,107.60 C182.10,105.83 182.59,104.01 183.60,102.50 C184.35,101.38 185.54,100.49 186.80,100.00 C188.40,99.38 190.22,99.63 191.90,99.30 C193.62,98.96 195.41,98.75 197.00,98.00 C198.18,97.45 199.19,96.52 200.00,95.50 C201.35,93.79 202.35,91.81 203.40,89.90 C204.62,87.68 205.45,85.24 206.80,83.10 C207.73,81.62 208.86,80.22 210.20,79.10 C211.17,78.29 212.34,77.30 213.60,77.40 C215.28,77.53 216.71,78.74 218.10,79.70 C219.73,80.83 220.96,82.48 222.60,83.60 C224.02,84.57 225.59,85.30 227.20,85.90 C228.65,86.44 230.16,86.84 231.70,87.00 C232.83,87.11 234.08,87.20 235.10,86.70 C236.82,85.85 238.18,84.39 239.60,83.10 C241.59,81.29 243.29,79.19 245.30,77.40 C246.70,76.15 248.03,74.63 249.80,74.00 C250.88,73.62 252.14,74.16 253.20,74.60 C254.45,75.11 255.63,75.86 256.60,76.80 C258.36,78.52 259.39,80.94 261.30,82.50 C262.94,83.84 264.99,84.64 267.00,85.30 C268.80,85.89 270.71,86.31 272.60,86.20 C274.21,86.11 275.89,85.65 277.20,84.70 C279.04,83.37 280.15,81.25 281.70,79.60 C283.15,78.05 284.43,76.27 286.20,75.10 C287.35,74.34 288.86,73.66 290.20,74.00 C292.18,74.50 293.63,76.22 295.30,77.40 C296.83,78.49 298.19,79.82 299.80,80.80 C301.61,81.90 303.60,82.67 305.50,83.60" fill="none" stroke="#8c1ee0" stroke-width="1.45" clip-path="url(#clipA1)" stroke-linejoin="round"/>
<path d="M384.40,213.80 L385.20,180.00 L386.00,130.00 L386.60,105.00 L387.00,97.00" fill="none" stroke="#f7a21b" stroke-width="1.45" stroke-dasharray="6 2.9 1.3 2.9" clip-path="url(#clipA2)" stroke-linejoin="round"/>
<path d="M381.70,184.00 L382.30,213.80" fill="none" stroke="#8cc43c" stroke-width="1.45" stroke-dasharray="8.3 3.6" clip-path="url(#clipA2)" stroke-linejoin="round"/>
<path d="M384.50,213.80 L385.30,160.00 L386.00,100.00 L386.60,60.00 L387.00,48.00" fill="none" stroke="#8cc43c" stroke-width="1.45" stroke-dasharray="8.3 3.6" clip-path="url(#clipA2)" stroke-linejoin="round"/>
<path d="M381.90,213.80 L382.30,197.00 L384.00,150.00 L385.20,120.00 L386.20,100.00 L386.80,85.00" fill="none" stroke="#fb4e14" stroke-width="1.45" stroke-dasharray="14.2 3.4" clip-path="url(#clipA2)" stroke-linejoin="round"/>
<path d="M384.90,213.80 L385.60,160.00 L386.30,110.00 L386.90,75.00" fill="none" stroke="#2a1fb8" stroke-width="1.45" stroke-dasharray="1.2 3.1" clip-path="url(#clipA2)" stroke-linejoin="round"/>
<path d="M386.90,47.31 L388.10,66.32 L389.30,47.40 L390.50,66.19 L391.70,47.48 L392.90,66.06 L394.10,47.56 L395.30,65.93 L396.50,47.64 L397.70,65.81 L398.90,47.73 L400.10,65.68 L401.30,47.81 L402.50,65.55 L403.70,47.89 L404.90,65.43 L406.10,47.98 L407.30,65.30 L408.50,48.06 L409.70,65.17 L410.90,48.14 L412.10,65.05 L413.30,48.22 L414.50,64.92 L415.70,48.31 L416.90,64.79 L418.10,48.39 L419.30,64.67 L420.50,48.47 L421.70,64.54 L422.90,48.56 L424.10,64.41 L425.30,48.64 L426.50,64.29 L427.70,48.72 L428.90,64.16 L430.10,48.81 L431.30,64.05 L432.50,48.98 L433.70,63.95 L434.90,49.16 L436.10,63.86 L437.30,49.33 L438.50,63.76 L439.70,49.51 L440.90,63.67 L442.10,49.68 L443.30,63.57 L444.50,49.86 L445.70,63.48 L446.90,50.03 L448.10,63.38 L449.30,50.21 L450.50,63.29 L451.70,50.38 L452.90,63.19 L454.10,50.56 L455.30,63.10 L456.50,50.73 L457.70,63.00 L458.90,50.91 L460.10,62.91 L461.30,51.08 L462.50,62.81 L463.70,51.26 L464.90,62.72 L466.10,51.43 L467.30,62.62 L468.50,51.61 L469.70,62.53 L470.90,51.78 L472.10,62.43 L473.30,51.96 L474.50,62.34 L475.70,52.13 L476.90,62.24 L478.10,52.30 L479.30,62.19 L480.50,52.31 L481.70,62.19 L482.90,52.31 L484.10,62.18 L485.30,52.32 L486.50,62.17 L487.70,52.33 L488.90,62.16 L490.10,52.34 L491.30,62.15 L492.50,52.34 L493.70,62.14 L494.90,52.35 L496.10,62.13 L497.30,52.36 L498.50,62.12 L499.70,52.37 L500.90,62.11 L502.10,52.37 L503.30,62.10 L504.50,52.38 L505.70,62.09 L506.90,52.39 L508.10,62.08 L509.30,52.39 L510.50,62.07 L511.70,52.40 L512.90,62.06 L514.10,52.41 L515.30,62.05 L516.50,52.42 L517.70,62.04 L518.90,52.42 L520.10,62.03 L521.30,52.43 L522.50,62.02 L523.70,52.44 L524.90,62.01 L526.10,52.45 L527.30,62.00 L528.50,52.45 L529.70,61.99 L530.90,52.46 L532.10,61.98 L533.30,52.47 L534.50,61.97 L535.70,52.47 L536.90,61.96 L538.10,52.48 L539.30,61.95 L540.50,52.49 L541.70,61.94 L542.90,52.50 L544.10,61.93 L545.30,52.50 L546.50,61.92 L547.70,52.51 L548.90,61.91 L550.10,52.52 L551.30,61.91 L552.50,52.52 L553.70,61.90 L554.90,52.53 L556.10,61.89 L557.30,52.54 L558.50,61.88 L559.70,52.55 L560.90,61.87 L562.10,52.55 L563.30,61.86 L564.50,52.56 L565.70,61.85 L566.90,52.57 L568.10,61.84 L569.30,52.58 L570.50,61.83 L571.70,52.58 L572.90,61.82 L574.10,52.59 L575.30,61.81 L576.50,52.60" fill="none" stroke="#8cc43c" stroke-width="1.3" stroke-dasharray="8.3 3.6" clip-path="url(#clipA2)" stroke-linejoin="round"/>
<path d="M386.90,96.02 L388.15,113.27 L389.40,96.18 L390.65,113.08 L391.90,96.34 L393.15,112.88 L394.40,96.49 L395.65,112.68 L396.90,96.65 L398.15,112.49 L399.40,96.80 L400.65,112.29 L401.90,96.96 L403.15,112.10 L404.40,97.11 L405.65,111.90 L406.90,97.27 L408.15,111.71 L409.40,97.42 L410.65,111.51 L411.90,97.58 L413.15,111.32 L414.40,97.73 L415.65,111.12 L416.90,97.89 L418.15,110.93 L419.40,98.04 L420.65,110.73 L421.90,98.20 L423.15,110.54 L424.40,98.35 L425.65,110.34 L426.90,98.51 L428.15,110.14 L429.40,98.66 L430.65,109.97 L431.90,98.76 L433.15,109.86 L434.40,98.85 L435.65,109.74 L436.90,98.93 L438.15,109.63 L439.40,99.01 L440.65,109.51 L441.90,99.10 L443.15,109.40 L444.40,99.18 L445.65,109.28 L446.90,99.26 L448.15,109.17 L449.40,99.35 L450.65,109.05 L451.90,99.43 L453.15,108.94 L454.40,99.51 L455.65,108.82 L456.90,99.60 L458.15,108.71 L459.40,99.68 L460.65,108.60 L461.90,99.76 L463.15,108.48 L464.40,99.85 L465.65,108.37 L466.90,99.93 L468.15,108.25 L469.40,100.01 L470.65,108.14 L471.90,100.10 L473.15,108.02 L474.40,100.18 L475.65,107.91 L476.90,100.26 L478.15,107.80 L479.40,100.31 L480.65,107.73 L481.90,100.32 L483.15,107.66 L484.40,100.33 L485.65,107.58 L486.90,100.34 L488.15,107.51 L489.40,100.36 L490.65,107.44 L491.90,100.37 L493.15,107.37 L494.40,100.38 L495.65,107.30 L496.90,100.39 L498.15,107.23 L499.40,100.41 L500.65,107.16 L501.90,100.42 L503.15,107.09 L504.40,100.43 L505.65,107.02 L506.90,100.45 L508.15,106.95 L509.40,100.46 L510.65,106.88 L511.90,100.47 L513.15,106.81 L514.40,100.48 L515.65,106.74 L516.90,100.50 L518.15,106.67 L519.40,100.51 L520.65,106.60 L521.90,100.52 L523.15,106.53 L524.40,100.53 L525.65,106.46 L526.90,100.55 L528.15,106.39 L529.40,100.56 L530.65,106.32 L531.90,100.57 L533.15,106.25 L534.40,100.58 L535.65,106.18 L536.90,100.60 L538.15,106.11 L539.40,100.61 L540.65,106.04 L541.90,100.62 L543.15,105.97 L544.40,100.63 L545.65,105.90 L546.90,100.65 L548.15,105.83 L549.40,100.66 L550.65,105.76 L551.90,100.67 L553.15,105.69 L554.40,100.68 L555.65,105.61 L556.90,100.70 L558.15,105.54 L559.40,100.71 L560.65,105.47 L561.90,100.72 L563.15,105.40 L564.40,100.73 L565.65,105.33 L566.90,100.75 L568.15,105.26 L569.40,100.76 L570.65,105.19 L571.90,100.77 L573.15,105.12 L574.40,100.78 L575.65,105.05 L576.90,100.80" fill="none" stroke="#f7a21b" stroke-width="1.3" stroke-dasharray="6 2.9 1.3 2.9" clip-path="url(#clipA2)" stroke-linejoin="round"/>
<path d="M386.60,68.00 L387.78,89.92 L388.96,68.10 L390.14,89.76 L391.32,68.20 L392.50,89.61 L393.68,68.30 L394.86,89.45 L396.04,68.40 L397.22,89.30 L398.40,68.50 L399.58,89.14 L400.76,68.60 L401.94,88.99 L403.12,68.69 L404.30,88.83 L405.48,68.79 L406.66,88.68 L407.84,68.89 L409.02,88.52 L410.20,68.99 L411.38,88.37 L412.56,69.09 L413.74,88.21 L414.92,69.19 L416.10,88.06 L417.28,69.29 L418.46,87.90 L419.64,69.38 L420.82,87.75 L422.00,69.45 L423.18,87.59 L424.36,69.50 L425.54,87.44 L426.72,69.56 L427.90,87.29 L429.08,69.61 L430.26,87.13 L431.44,69.67 L432.62,86.98 L433.80,69.72 L434.98,86.82 L436.16,69.78 L437.34,86.67 L438.52,69.83 L439.70,86.51 L440.88,69.89 L442.06,86.36 L443.24,69.94 L444.42,86.20 L445.60,70.00 L446.78,86.05 L447.96,70.05 L449.14,85.89 L450.32,70.11 L451.50,85.74 L452.68,70.16 L453.86,85.58 L455.04,70.22 L456.22,85.43 L457.40,70.27 L458.58,85.27 L459.76,70.33 L460.94,85.12 L462.12,70.38 L463.30,84.96 L464.48,70.44 L465.66,84.81 L466.84,70.49 L468.02,84.65 L469.20,70.55 L470.38,84.50 L471.56,70.60 L472.74,84.34 L473.92,70.66 L475.10,84.19 L476.28,70.71 L477.46,84.04 L478.64,70.77 L479.82,83.91 L481.00,70.81 L482.18,83.79 L483.36,70.82 L484.54,83.67 L485.72,70.84 L486.90,83.55 L488.08,70.85 L489.26,83.43 L490.44,70.86 L491.62,83.32 L492.80,70.88 L493.98,83.20 L495.16,70.89 L496.34,83.08 L497.52,70.91 L498.70,82.96 L499.88,70.92 L501.06,82.84 L502.24,70.94 L503.42,82.72 L504.60,70.95 L505.78,82.60 L506.96,70.97 L508.14,82.49 L509.32,70.98 L510.50,82.37 L511.68,70.99 L512.86,82.25 L514.04,71.01 L515.22,82.13 L516.40,71.02 L517.58,82.01 L518.76,71.04 L519.94,81.89 L521.12,71.05 L522.30,81.77 L523.48,71.07 L524.66,81.66 L525.84,71.08 L527.02,81.54 L528.20,71.10 L529.38,81.42 L530.56,71.11 L531.74,81.30 L532.92,71.13 L534.10,81.18 L535.28,71.14 L536.46,81.06 L537.64,71.15 L538.82,80.94 L540.00,71.17 L541.18,80.83 L542.36,71.18 L543.54,80.71 L544.72,71.20 L545.90,80.59 L547.08,71.21 L548.26,80.47 L549.44,71.23 L550.62,80.35 L551.80,71.24 L552.98,80.23 L554.16,71.26 L555.34,80.11 L556.52,71.27 L557.70,79.99 L558.88,71.29 L560.06,79.88 L561.24,71.30 L562.42,79.76 L563.60,71.31 L564.78,79.64 L565.96,71.33 L567.14,79.52 L568.32,71.34 L569.50,79.40 L570.68,71.36 L571.86,79.28 L573.04,71.37 L574.22,79.16 L575.40,71.39 L576.58,79.05" fill="none" stroke="#1bb5f3" stroke-width="1.3" clip-path="url(#clipA2)" stroke-linejoin="round"/>
<path d="M387.00,68.52 L388.22,93.83 L389.44,68.60 L390.66,93.58 L391.88,68.68 L393.10,93.33 L394.32,68.76 L395.54,93.09 L396.76,68.84 L397.98,92.84 L399.20,68.92 L400.42,92.59 L401.64,69.00 L402.86,92.35 L404.08,69.08 L405.30,92.10 L406.52,69.16 L407.74,91.85 L408.96,69.24 L410.18,91.60 L411.40,69.32 L412.62,91.36 L413.84,69.40 L415.06,91.11 L416.28,69.48 L417.50,90.86 L418.72,69.56 L419.94,90.62 L421.16,69.64 L422.38,90.37 L423.60,69.72 L424.82,90.12 L426.04,69.80 L427.26,89.88 L428.48,69.88 L429.70,89.63 L430.92,69.96 L432.14,89.51 L433.36,70.04 L434.58,89.41 L435.80,70.12 L437.02,89.31 L438.24,70.20 L439.46,89.21 L440.68,70.28 L441.90,89.10 L443.12,70.36 L444.34,89.00 L445.56,70.44 L446.78,88.90 L448.00,70.52 L449.22,88.80 L450.44,70.60 L451.66,88.70 L452.88,70.68 L454.10,88.60 L455.32,70.76 L456.54,88.49 L457.76,70.84 L458.98,88.39 L460.20,70.92 L461.42,88.29 L462.64,71.00 L463.86,88.19 L465.08,71.08 L466.30,88.09 L467.52,71.16 L468.74,87.99 L469.96,71.24 L471.18,87.88 L472.40,71.32 L473.62,87.78 L474.84,71.40 L476.06,87.68 L477.28,71.48 L478.50,87.56 L479.72,71.52 L480.94,87.39 L482.16,71.54 L483.38,87.22 L484.60,71.57 L485.82,87.04 L487.04,71.59 L488.26,86.87 L489.48,71.62 L490.70,86.69 L491.92,71.64 L493.14,86.52 L494.36,71.66 L495.58,86.35 L496.80,71.69 L498.02,86.17 L499.24,71.71 L500.46,86.00 L501.68,71.74 L502.90,85.82 L504.12,71.76 L505.34,85.65 L506.56,71.79 L507.78,85.47 L509.00,71.81 L510.22,85.30 L511.44,71.84 L512.66,85.13 L513.88,71.86 L515.10,84.95 L516.32,71.89 L517.54,84.78 L518.76,71.91 L519.98,84.60 L521.20,71.93 L522.42,84.43 L523.64,71.96 L524.86,84.26 L526.08,71.98 L527.30,84.08 L528.52,72.01 L529.74,83.91 L530.96,72.03 L532.18,83.73 L533.40,72.06 L534.62,83.56 L535.84,72.08 L537.06,83.39 L538.28,72.11 L539.50,83.21 L540.72,72.13 L541.94,83.04 L543.16,72.15 L544.38,82.86 L545.60,72.18 L546.82,82.69 L548.04,72.20 L549.26,82.52 L550.48,72.23 L551.70,82.34 L552.92,72.25 L554.14,82.17 L555.36,72.28 L556.58,81.99 L557.80,72.30 L559.02,81.82 L560.24,72.33 L561.46,81.64 L562.68,72.35 L563.90,81.47 L565.12,72.38 L566.34,81.30 L567.56,72.40 L568.78,81.12 L570.00,72.42 L571.22,80.95 L572.44,72.45 L573.66,80.77 L574.88,72.47 L576.10,80.60 L577.32,72.50" fill="none" stroke="#2a1fb8" stroke-width="1.3" stroke-dasharray="1.2 3.1" clip-path="url(#clipA2)" stroke-linejoin="round"/>
<path d="M386.80,77.00 L388.01,87.78 L389.22,77.04 L390.43,87.75 L391.64,77.08 L392.85,87.72 L394.06,77.12 L395.27,87.68 L396.48,77.16 L397.69,87.65 L398.90,77.19 L400.11,87.62 L401.32,77.23 L402.53,87.59 L403.74,77.27 L404.95,87.56 L406.16,77.31 L407.37,87.53 L408.58,77.35 L409.79,87.49 L411.00,77.38 L412.21,87.46 L413.42,77.42 L414.63,87.43 L415.84,77.46 L417.05,87.40 L418.26,77.50 L419.47,87.37 L420.68,77.54 L421.89,87.34 L423.10,77.57 L424.31,87.30 L425.52,77.61 L426.73,87.27 L427.94,77.65 L429.15,87.24 L430.36,77.69 L431.57,87.21 L432.78,77.73 L433.99,87.18 L435.20,77.76 L436.41,87.15 L437.62,77.80 L438.83,87.11 L440.04,77.84 L441.25,87.08 L442.46,77.88 L443.67,87.05 L444.88,77.92 L446.09,87.02 L447.30,77.95 L448.51,86.99 L449.72,77.99 L450.93,86.96 L452.14,78.03 L453.35,86.92 L454.56,78.07 L455.77,86.89 L456.98,78.11 L458.19,86.86 L459.40,78.15 L460.61,86.83 L461.82,78.18 L463.03,86.80 L464.24,78.22 L465.45,86.76 L466.66,78.26 L467.87,86.73 L469.08,78.30 L470.29,86.70 L471.50,78.34 L472.71,86.67 L473.92,78.37 L475.13,86.64 L476.34,78.41 L477.55,86.61 L478.76,78.45 L479.97,86.59 L481.18,78.49 L482.39,86.58 L483.60,78.53 L484.81,86.57 L486.02,78.56 L487.23,86.56 L488.44,78.60 L489.65,86.55 L490.86,78.64 L492.07,86.54 L493.28,78.68 L494.49,86.53 L495.70,78.72 L496.91,86.52 L498.12,78.75 L499.33,86.51 L500.54,78.79 L501.75,86.50 L502.96,78.83 L504.17,86.49 L505.38,78.87 L506.59,86.49 L507.80,78.91 L509.01,86.48 L510.22,78.94 L511.43,86.47 L512.64,78.98 L513.85,86.46 L515.06,79.02 L516.27,86.45 L517.48,79.06 L518.69,86.44 L519.90,79.10 L521.11,86.43 L522.32,79.13 L523.53,86.42 L524.74,79.17 L525.95,86.41 L527.16,79.21 L528.37,86.40 L529.58,79.25 L530.79,86.39 L532.00,79.29 L533.21,86.38 L534.42,79.32 L535.63,86.37 L536.84,79.36 L538.05,86.36 L539.26,79.40 L540.47,86.35 L541.68,79.44 L542.89,86.34 L544.10,79.48 L545.31,86.33 L546.52,79.51 L547.73,86.32 L548.94,79.55 L550.15,86.31 L551.36,79.59 L552.57,86.30 L553.78,79.63 L554.99,86.29 L556.20,79.67 L557.41,86.28 L558.62,79.70 L559.83,86.27 L561.04,79.74 L562.25,86.26 L563.46,79.78 L564.67,86.25 L565.88,79.82 L567.09,86.24 L568.30,79.86 L569.51,86.23 L570.72,79.89 L571.93,86.22 L573.14,79.93 L574.35,86.21 L575.56,79.97 L576.77,86.20" fill="none" stroke="#fb4e14" stroke-width="1.3" stroke-dasharray="14.2 3.4" clip-path="url(#clipA2)" stroke-linejoin="round"/>
<path d="M386.30,213.80 L386.40,120.00 L386.60,74.80 L387.79,85.99 L388.98,74.86 L390.17,85.96 L391.36,74.92 L392.55,85.93 L393.74,74.97 L394.93,85.91 L396.12,75.03 L397.31,85.88 L398.50,75.09 L399.69,85.86 L400.88,75.15 L402.07,85.83 L403.26,75.20 L404.45,85.80 L405.64,75.26 L406.83,85.78 L408.02,75.32 L409.21,85.75 L410.40,75.37 L411.59,85.73 L412.78,75.43 L413.97,85.70 L415.16,75.49 L416.35,85.67 L417.54,75.55 L418.73,85.65 L419.92,75.60 L421.11,85.62 L422.30,75.66 L423.49,85.60 L424.68,75.72 L425.87,85.57 L427.06,75.78 L428.25,85.54 L429.44,75.83 L430.63,85.52 L431.82,75.89 L433.01,85.49 L434.20,75.95 L435.39,85.47 L436.58,76.00 L437.77,85.44 L438.96,76.06 L440.15,85.41 L441.34,76.12 L442.53,85.39 L443.72,76.18 L444.91,85.36 L446.10,76.23 L447.29,85.34 L448.48,76.29 L449.67,85.31 L450.86,76.35 L452.05,85.28 L453.24,76.40 L454.43,85.26 L455.62,76.46 L456.81,85.23 L458.00,76.52 L459.19,85.21 L460.38,76.58 L461.57,85.18 L462.76,76.63 L463.95,85.15 L465.14,76.69 L466.33,85.13 L467.52,76.75 L468.71,85.10 L469.90,76.81 L471.09,85.08 L472.28,76.86 L473.47,85.05 L474.66,76.92 L475.85,85.02 L477.04,76.98 L478.23,85.00 L479.42,77.02 L480.61,84.96 L481.80,77.05 L482.99,84.92 L484.18,77.08 L485.37,84.89 L486.56,77.11 L487.75,84.85 L488.94,77.14 L490.13,84.82 L491.32,77.17 L492.51,84.78 L493.70,77.21 L494.89,84.75 L496.08,77.24 L497.27,84.71 L498.46,77.27 L499.65,84.67 L500.84,77.30 L502.03,84.64 L503.22,77.33 L504.41,84.60 L505.60,77.36 L506.79,84.57 L507.98,77.39 L509.17,84.53 L510.36,77.42 L511.55,84.49 L512.74,77.45 L513.93,84.46 L515.12,77.48 L516.31,84.42 L517.50,77.52 L518.69,84.39 L519.88,77.55 L521.07,84.35 L522.26,77.58 L523.45,84.31 L524.64,77.61 L525.83,84.28 L527.02,77.64 L528.21,84.24 L529.40,77.67 L530.59,84.21 L531.78,77.70 L532.97,84.17 L534.16,77.73 L535.35,84.14 L536.54,77.76 L537.73,84.10 L538.92,77.80 L540.11,84.06 L541.30,77.83 L542.49,84.03 L543.68,77.86 L544.87,83.99 L546.06,77.89 L547.25,83.96 L548.44,77.92 L549.63,83.92 L550.82,77.95 L552.01,83.88 L553.20,77.98 L554.39,83.85 L555.58,78.01 L556.77,83.81 L557.96,78.04 L559.15,83.78 L560.34,78.08 L561.53,83.74 L562.72,78.11 L563.91,83.70 L565.10,78.14 L566.29,83.67 L567.48,78.17 L568.67,83.63 L569.86,78.20 L571.05,83.60 L572.24,78.23 L573.43,83.56 L574.62,78.26 L575.81,83.53 L577.00,78.29" fill="none" stroke="#8c1ee0" stroke-width="1.3" clip-path="url(#clipA2)" stroke-linejoin="round"/>
<path d="M381.70,137.50 L382.80,110.00 L384.00,78.00 L385.00,52.00 L385.40,45.80 L385.90,47.00 L386.40,60.00 L386.60,68.00" fill="none" stroke="#1bb5f3" stroke-width="1.45" clip-path="url(#clipA2)" stroke-linejoin="round"/>
<path d="M106.90,358.35H305.00" stroke="#f7b5c4" stroke-width="2.4"/>
<text x="112.4" y="356.09999999999997" font-family="'Liberation Serif','Times New Roman',serif" font-size="10" stroke="#111" stroke-width="0.12" textLength="61" lengthAdjust="spacingAndGlyphs" fill="#111">Tum. detection</text>
<path d="M107.20,366.50 C109.20,362.73 111.14,358.93 113.20,355.20 C115.87,350.37 118.64,345.58 121.40,340.80 C124.10,336.12 126.87,331.47 129.60,326.80 C132.33,322.13 135.07,317.47 137.80,312.80 C140.53,308.13 143.27,303.47 146.00,298.80 C148.00,295.37 149.96,291.91 152.00,288.50 C153.46,286.05 154.84,283.53 156.50,281.20 C157.35,280.01 158.27,278.80 159.50,278.00 C160.36,277.44 161.47,277.30 162.50,277.30 C163.53,277.30 164.53,277.66 165.50,278.00 C166.71,278.43 167.81,279.12 169.00,279.60 C171.18,280.48 173.39,281.31 175.60,282.10 C178.32,283.07 181.13,283.79 183.80,284.90 C186.61,286.06 189.29,287.52 192.00,288.90 C193.69,289.76 195.32,290.72 197.00,291.60 C198.32,292.29 199.61,293.07 201.00,293.60 C202.95,294.34 204.95,295.01 207.00,295.40 C209.87,295.95 212.78,296.29 215.70,296.40 C218.80,296.52 221.90,296.23 225.00,296.10 C228.27,295.96 231.53,295.72 234.80,295.60 C243.50,295.29 252.20,294.98 260.90,294.80 C269.60,294.62 278.30,294.58 287.00,294.50 C293.17,294.44 299.33,294.43 305.50,294.40" fill="none" stroke="#1bb5f3" stroke-width="1.45" clip-path="url(#clipB1)" stroke-linejoin="round"/>
<path d="M161.50,442.50 C162.50,437.67 163.55,432.84 164.50,428.00 C165.51,422.84 166.40,417.66 167.40,412.50 C168.40,407.33 169.41,402.15 170.50,397.00 C171.61,391.75 172.75,386.51 174.00,381.30 C174.75,378.18 175.68,375.10 176.50,372.00 C177.21,369.34 177.87,366.66 178.60,364.00 C179.20,361.82 179.82,359.65 180.50,357.50 C181.55,354.18 182.35,350.76 183.80,347.60 C185.10,344.76 186.42,341.74 188.70,339.60 C190.44,337.96 192.92,337.01 195.30,336.80 C196.97,336.65 198.51,337.82 200.00,338.60 C201.83,339.56 203.54,340.77 205.20,342.00 C207.01,343.34 208.67,344.86 210.40,346.30 C212.17,347.76 213.93,349.24 215.70,350.70 C217.43,352.14 219.12,353.63 220.90,355.00 C222.59,356.30 224.38,357.44 226.10,358.70 C227.85,359.98 229.61,361.25 231.30,362.60 C232.91,363.88 234.20,365.61 236.00,366.60 C240.05,368.84 244.37,370.58 248.70,372.20 C253.28,373.92 257.92,375.56 262.70,376.60 C266.66,377.47 270.75,377.77 274.80,377.90 C278.87,378.03 282.95,377.79 287.00,377.40 C290.53,377.06 294.04,376.48 297.50,375.70 C300.22,375.08 302.83,374.03 305.50,373.20" fill="none" stroke="#2a1fb8" stroke-width="1.45" stroke-dasharray="1.2 3.1" clip-path="url(#clipB1)" stroke-linejoin="round"/>
<path d="M107.00,412.00 C107.83,417.33 108.63,422.67 109.50,428.00 C110.29,432.84 111.17,437.67 112.00,442.50" fill="none" stroke="#8cc43c" stroke-width="1.45" stroke-dasharray="8.3 3.6" clip-path="url(#clipB1)" stroke-linejoin="round"/>
<path d="M159.80,442.50 C160.80,437.00 161.81,431.50 162.80,426.00 C163.81,420.40 164.74,414.79 165.80,409.20 C166.57,405.12 167.44,401.06 168.30,397.00 C169.07,393.39 169.84,389.79 170.70,386.20 C171.74,381.82 172.98,377.49 174.00,373.10 C175.15,368.18 176.18,363.24 177.20,358.30 C178.05,354.21 178.70,350.08 179.60,346.00 C180.36,342.54 181.05,339.05 182.20,335.70 C183.56,331.76 185.03,327.82 187.10,324.20 C188.33,322.05 189.94,319.98 192.00,318.60 C193.41,317.66 195.30,317.60 197.00,317.60 C198.21,317.60 199.36,318.19 200.50,318.60 C201.23,318.86 201.94,319.19 202.60,319.60 C203.78,320.33 204.85,321.23 206.00,322.00 C207.45,322.96 209.02,323.75 210.40,324.80 C212.83,326.65 215.13,328.66 217.40,330.70 C219.80,332.86 221.97,335.27 224.40,337.40 C226.61,339.34 228.81,341.34 231.30,342.90 C234.04,344.62 237.05,345.88 240.00,347.20 C242.85,348.48 245.75,349.67 248.70,350.70 C251.56,351.70 254.47,352.56 257.40,353.30 C260.27,354.03 263.17,354.66 266.10,355.10 C268.98,355.53 271.89,355.82 274.80,355.90 C277.73,355.98 280.68,355.88 283.60,355.60 C286.52,355.32 289.42,354.78 292.30,354.20 C295.22,353.61 298.13,352.91 301.00,352.10 C302.53,351.67 304.00,351.03 305.50,350.50" fill="none" stroke="#8cc43c" stroke-width="1.45" stroke-dasharray="8.3 3.6" clip-path="url(#clipB1)" stroke-linejoin="round"/>
<path d="M107.00,430.50 C107.40,432.33 107.85,434.16 108.20,436.00 C108.61,438.16 108.93,440.33 109.30,442.50" fill="none" stroke="#f7a21b" stroke-width="1.45" stroke-dasharray="6 2.9 1.3 2.9" clip-path="url(#clipB1)" stroke-linejoin="round"/>
<path d="M150.00,442.50 C150.77,438.33 151.58,434.18 152.30,430.00 C153.02,425.81 153.57,421.59 154.30,417.40 C155.07,412.92 155.91,408.46 156.80,404.00 C157.55,400.26 158.27,396.50 159.20,392.80 C160.17,388.93 160.91,384.96 162.50,381.30 C163.68,378.59 165.31,375.99 167.40,373.90 C169.23,372.07 171.74,371.07 174.00,369.80 C176.12,368.60 178.49,367.87 180.50,366.50 C182.89,364.88 184.95,362.83 187.10,360.90 C189.12,359.09 190.97,357.10 193.00,355.30 C195.27,353.29 197.50,351.21 200.00,349.50 C202.75,347.63 205.76,346.16 208.70,344.60 C211.56,343.09 214.43,341.58 217.40,340.30 C220.24,339.08 223.22,338.21 226.10,337.10 C229.02,335.98 231.89,334.75 234.80,333.60 C238.29,332.22 241.79,330.84 245.30,329.50 C248.76,328.18 252.22,326.86 255.70,325.60 C259.15,324.36 262.62,323.17 266.10,322.00 C269.59,320.83 273.08,319.68 276.60,318.60 C280.05,317.54 283.50,316.49 287.00,315.60 C290.47,314.72 294.00,314.06 297.50,313.30 C300.16,312.72 302.83,312.17 305.50,311.60" fill="none" stroke="#f7a21b" stroke-width="1.45" stroke-dasharray="6 2.9 1.3 2.9" clip-path="url(#clipB1)" stroke-linejoin="round"/>
<path d="M109.90,442.50 C110.20,441.00 110.41,439.48 110.80,438.00 C111.04,437.07 111.28,436.11 111.80,435.30 C114.36,431.35 117.26,427.63 120.00,423.80 C123.33,419.13 126.67,414.47 130.00,409.80 C133.33,405.13 136.67,400.47 140.00,395.80 C143.33,391.13 146.67,386.47 150.00,381.80 C151.67,379.47 153.31,377.12 155.00,374.80 C155.84,373.65 156.66,372.48 157.60,371.40 C158.20,370.71 158.84,370.02 159.60,369.50 C160.33,369.00 161.15,368.64 162.00,368.40 C163.30,368.03 164.67,367.93 166.00,367.70 C167.17,367.50 168.36,367.43 169.50,367.10 C171.58,366.49 173.62,365.76 175.60,364.90 C177.86,363.92 180.12,362.92 182.20,361.60 C184.51,360.14 186.60,358.35 188.70,356.60 C192.53,353.41 196.17,350.00 200.00,346.80 C202.28,344.90 204.43,342.78 207.00,341.30 C210.27,339.42 213.92,338.26 217.40,336.80 C220.28,335.59 223.20,334.47 226.10,333.30 C229.00,332.13 231.90,330.98 234.80,329.80 C238.30,328.38 241.80,326.92 245.30,325.50 C248.76,324.09 252.20,322.63 255.70,321.30 C259.14,319.99 262.63,318.81 266.10,317.60 C269.59,316.38 273.07,315.10 276.60,314.00 C280.04,312.93 283.51,311.98 287.00,311.10 C290.48,310.22 293.98,309.42 297.50,308.70 C300.15,308.16 302.83,307.77 305.50,307.30" fill="none" stroke="#fb4e14" stroke-width="1.45" stroke-dasharray="14.2 3.4" clip-path="url(#clipB1)" stroke-linejoin="round"/>
<path d="M178.90,442.50 C179.70,438.67 180.44,434.82 181.30,431.00 C182.07,427.55 182.94,424.13 183.80,420.70 C184.57,417.63 185.29,414.54 186.20,411.50 C186.93,409.07 187.81,406.68 188.70,404.30 C189.68,401.68 190.66,399.06 191.80,396.50 C192.86,394.12 193.97,391.75 195.30,389.50 C196.78,387.00 198.13,384.33 200.20,382.30 C201.53,381.00 203.40,380.29 205.20,379.80 C207.46,379.18 209.86,378.85 212.20,379.00 C215.72,379.22 219.17,380.08 222.60,380.90 C226.71,381.88 230.67,383.50 234.80,384.40 C239.38,385.40 244.03,386.12 248.70,386.60 C253.35,387.08 258.03,387.48 262.70,387.30 C266.77,387.14 270.83,386.50 274.80,385.60 C278.95,384.66 282.97,383.17 287.00,381.80 C290.54,380.60 294.06,379.35 297.50,377.90 C300.23,376.75 302.83,375.30 305.50,374.00" fill="none" stroke="#8c1ee0" stroke-width="1.45" clip-path="url(#clipB1)" stroke-linejoin="round"/>
<path d="M381.90,366.50 C382.13,359.33 382.38,352.17 382.60,345.00 C382.85,336.67 383.05,328.33 383.30,320.00 C383.52,312.67 383.73,305.33 384.00,298.00 C384.20,292.67 384.37,287.33 384.70,282.00 C384.80,280.42 384.79,278.79 385.30,277.30 C385.45,276.88 385.82,278.06 385.90,278.50 C386.33,280.98 386.50,283.50 386.80,286.00 C387.10,288.50 387.20,291.03 387.70,293.50 C387.87,294.33 388.09,295.33 388.80,295.80 C389.26,296.11 389.87,295.46 390.40,295.30 C391.17,295.06 391.90,294.67 392.70,294.60 C393.40,294.54 394.13,294.68 394.80,294.90 C395.48,295.12 396.19,295.40 396.70,295.90 C397.36,296.54 397.78,297.39 398.20,298.20 C398.72,299.19 399.06,300.27 399.50,301.30 C399.89,302.20 400.21,303.14 400.70,304.00 C400.92,304.39 401.17,304.89 401.60,305.00 C402.07,305.12 402.53,304.72 403.00,304.60 C403.66,304.42 404.32,304.20 405.00,304.10 C405.99,303.96 407.00,303.90 408.00,303.90 C464.50,303.87 521.00,303.97 577.50,304.00" fill="none" stroke="#1bb5f3" stroke-width="1.45" clip-path="url(#clipB2)" stroke-linejoin="round"/>
<path d="M385.50,442.50 C385.63,428.33 385.76,414.17 385.90,400.00 C386.03,386.67 386.07,373.33 386.30,360.00 C386.40,354.00 386.51,347.99 386.90,342.00 C386.95,341.30 387.49,339.30 387.60,340.00 C388.23,343.96 388.19,348.00 388.50,352.00 C388.86,356.67 389.12,361.34 389.60,366.00 C389.92,369.18 390.20,372.38 390.90,375.50 C390.99,375.92 391.75,376.70 391.90,376.30 C392.69,374.14 392.78,371.78 393.10,369.50 C393.68,365.34 394.07,361.16 394.60,357.00 C395.11,353.00 395.58,348.99 396.20,345.00 C396.58,342.58 396.83,340.12 397.60,337.80 C397.74,337.38 398.49,336.88 398.80,337.20 C399.63,338.06 399.88,339.35 400.20,340.50 C400.75,342.46 400.88,344.53 401.40,346.50 C401.65,347.47 401.75,348.64 402.50,349.30 C402.87,349.62 403.39,348.88 403.80,348.60 C404.43,348.17 404.94,347.58 405.60,347.20 C406.35,346.77 407.14,346.31 408.00,346.20 C409.00,346.07 410.00,346.50 411.00,346.50 C466.50,346.60 522.00,346.50 577.50,346.50" fill="none" stroke="#2a1fb8" stroke-width="1.45" stroke-dasharray="1.2 3.1" clip-path="url(#clipB2)" stroke-linejoin="round"/>
<path d="M384.80,442.50 C385.03,421.67 385.23,400.83 385.50,380.00 C385.70,365.00 385.84,350.00 386.20,335.00 C386.34,329.33 386.31,323.63 387.00,318.00 C387.17,316.65 387.66,320.65 387.80,322.00 C388.43,327.99 388.70,334.01 389.30,340.00 C389.70,344.01 390.04,348.04 390.80,352.00 C390.95,352.76 391.73,354.73 392.00,354.00 C393.06,351.15 393.05,348.02 393.40,345.00 C393.98,340.01 394.28,334.99 394.80,330.00 C395.22,325.99 395.62,321.98 396.20,318.00 C396.52,315.81 396.89,313.62 397.50,311.50 C397.64,311.02 397.91,310.42 398.40,310.30 C398.82,310.19 399.23,310.66 399.50,311.00 C400.09,311.75 400.46,312.65 400.90,313.50 C401.43,314.52 401.70,315.69 402.40,316.60 C402.72,317.01 403.28,317.33 403.80,317.30 C404.44,317.26 404.96,316.74 405.50,316.40 C406.19,315.97 406.75,315.31 407.50,315.00 C408.15,314.73 408.89,314.67 409.60,314.70 C410.42,314.74 411.19,315.11 412.00,315.20 C413.33,315.35 414.67,315.40 416.00,315.40 C469.83,315.47 523.67,315.40 577.50,315.40" fill="none" stroke="#8cc43c" stroke-width="1.45" stroke-dasharray="8.3 3.6" clip-path="url(#clipB2)" stroke-linejoin="round"/>
<path d="M383.20,442.50 C383.50,435.33 383.81,428.17 384.10,421.00 C384.41,413.47 384.67,405.93 385.00,398.40 C385.27,392.27 385.54,386.13 385.90,380.00 C386.21,374.66 386.57,369.33 387.00,364.00 C387.40,358.99 387.88,354.00 388.40,349.00 C388.88,344.33 389.43,339.66 390.00,335.00 C390.49,330.99 390.97,326.99 391.60,323.00 C392.07,319.98 392.60,316.97 393.30,314.00 C393.66,312.46 394.14,310.94 394.80,309.50 C395.19,308.65 395.77,307.89 396.40,307.20 C396.98,306.57 397.58,305.83 398.40,305.60 C399.15,305.39 399.92,306.01 400.70,306.00 C401.85,305.98 402.96,305.54 404.10,305.50 C406.07,305.44 408.03,305.70 410.00,305.70 C465.83,305.76 521.67,305.70 577.50,305.70" fill="none" stroke="#f7a21b" stroke-width="1.45" stroke-dasharray="6 2.9 1.3 2.9" clip-path="url(#clipB2)" stroke-linejoin="round"/>
<path d="M382.40,442.50 C382.70,435.33 383.02,428.17 383.30,421.00 C383.59,413.47 383.80,405.93 384.10,398.40 C384.36,391.93 384.64,385.46 385.00,379.00 C385.31,373.53 385.68,368.06 386.10,362.60 C386.48,357.70 386.89,352.79 387.40,347.90 C387.85,343.56 388.43,339.23 389.00,334.90 C389.50,331.10 390.02,327.29 390.60,323.50 C391.12,320.16 391.62,316.81 392.30,313.50 C392.72,311.47 393.18,309.44 393.90,307.50 C394.45,306.02 395.12,304.54 396.10,303.30 C396.67,302.58 397.51,302.01 398.40,301.80 C399.89,301.45 401.47,301.70 403.00,301.70 C461.17,301.67 519.33,301.70 577.50,301.70" fill="none" stroke="#fb4e14" stroke-width="1.45" stroke-dasharray="14.2 3.4" clip-path="url(#clipB2)" stroke-linejoin="round"/>
<path d="M385.60,442.50 C385.73,436.67 385.86,430.83 386.00,425.00 C386.16,418.33 386.32,411.67 386.50,405.00 C386.65,399.33 386.76,393.66 387.00,388.00 C387.12,385.16 387.11,382.30 387.60,379.50 C387.67,379.10 388.18,380.11 388.30,380.50 C388.72,381.80 388.81,383.19 389.20,384.50 C389.44,385.30 389.72,386.12 390.20,386.80 C390.39,387.07 390.89,387.45 391.10,387.20 C391.71,386.46 391.90,385.44 392.10,384.50 C392.57,382.36 392.83,380.18 393.10,378.00 C393.49,374.84 393.77,371.67 394.10,368.50 C394.47,365.00 394.80,361.50 395.20,358.00 C395.56,354.83 396.03,351.67 396.40,348.50 C396.83,344.84 397.21,341.17 397.60,337.50 C397.94,334.33 398.14,331.15 398.60,328.00 C398.77,326.84 398.77,325.52 399.50,324.60 C399.79,324.23 400.27,325.19 400.50,325.60 C401.05,326.58 401.34,327.68 401.80,328.70 C402.24,329.68 402.57,330.73 403.20,331.60 C403.53,332.07 404.03,332.66 404.60,332.60 C405.23,332.53 405.54,331.74 406.00,331.30 C406.51,330.81 406.97,330.27 407.50,329.80 C408.04,329.33 408.56,328.81 409.20,328.50 C409.62,328.29 410.13,328.23 410.60,328.30 C411.27,328.40 411.85,328.81 412.50,329.00 C413.32,329.24 414.14,329.60 415.00,329.60 C469.17,329.80 523.33,329.60 577.50,329.60" fill="none" stroke="#8c1ee0" stroke-width="1.45" clip-path="url(#clipB2)" stroke-linejoin="round"/>
<path d="M106.90,592.10H305.00" stroke="#f7b5c4" stroke-width="2.4"/>
<text x="117.3" y="589.4000000000001" font-family="'Liberation Serif','Times New Roman',serif" font-size="10" stroke="#111" stroke-width="0.12" textLength="61" lengthAdjust="spacingAndGlyphs" fill="#111">Tum. detection</text>
<path d="M107.20,600.30 C109.20,596.27 110.99,592.12 113.20,588.20 C115.73,583.71 118.78,579.53 121.40,575.10 C124.24,570.30 126.87,565.37 129.60,560.50 C132.33,555.63 134.96,550.71 137.80,545.90 C140.43,541.44 143.26,537.10 146.00,532.70 C147.50,530.30 148.94,527.86 150.50,525.50 C151.71,523.66 153.00,521.88 154.30,520.10 C155.17,518.91 155.96,517.64 157.00,516.60 C157.71,515.89 158.57,515.29 159.50,514.90 C160.28,514.57 161.16,514.55 162.00,514.50 C162.83,514.45 163.67,514.51 164.50,514.60 C165.51,514.71 166.49,514.97 167.50,515.10 C168.56,515.24 169.63,515.40 170.70,515.40 C171.64,515.40 172.57,515.21 173.50,515.10 C174.20,515.01 174.90,514.91 175.60,514.80 C176.74,514.61 177.86,514.32 179.00,514.20 C180.06,514.09 181.14,513.97 182.20,514.10 C183.04,514.20 183.92,514.40 184.60,514.90 C185.57,515.61 186.42,516.54 187.00,517.60 C188.11,519.65 188.87,521.88 189.60,524.10 C190.57,527.06 191.30,530.09 192.10,533.10 C193.00,536.49 193.79,539.91 194.70,543.30 C195.49,546.28 196.26,549.27 197.20,552.20 C198.16,555.20 199.25,558.16 200.40,561.10 C201.59,564.13 202.74,567.19 204.20,570.10 C205.31,572.31 206.67,574.39 208.10,576.40 C209.24,578.00 210.31,579.74 211.90,580.90 C212.78,581.54 214.02,581.60 215.10,581.50 C216.23,581.39 217.38,580.97 218.30,580.30 C219.77,579.23 220.93,577.79 222.10,576.40 C223.47,574.78 224.69,573.04 225.90,571.30 C227.32,569.27 228.69,567.20 230.00,565.10 C231.66,562.44 233.24,559.72 234.80,557.00 C236.24,554.49 237.60,551.93 239.00,549.40 C240.50,546.70 242.04,544.02 243.50,541.30 C244.71,539.05 245.83,536.76 247.00,534.50 C248.16,532.26 249.34,530.04 250.50,527.80 C251.44,525.97 252.27,524.08 253.30,522.30 C254.01,521.08 254.69,519.79 255.70,518.80 C256.34,518.17 257.21,517.68 258.10,517.60 C258.88,517.53 259.75,517.85 260.30,518.40 C261.20,519.30 261.61,520.58 262.20,521.70 C262.98,523.18 263.65,524.71 264.40,526.20 C265.08,527.54 265.62,528.98 266.50,530.20 C267.11,531.04 267.88,531.81 268.80,532.30 C269.39,532.62 270.15,532.66 270.80,532.50 C271.55,532.31 272.20,531.79 272.80,531.30 C273.77,530.51 274.58,529.54 275.50,528.70 C276.41,527.87 277.31,527.03 278.30,526.30 C279.31,525.56 280.38,524.88 281.50,524.30 C282.46,523.81 283.45,523.32 284.50,523.10 C285.41,522.91 286.38,522.96 287.30,523.10 C288.10,523.23 288.87,523.55 289.60,523.90 C290.64,524.39 291.60,525.03 292.60,525.60 C293.64,526.19 294.65,526.83 295.70,527.40 C296.45,527.80 297.19,528.24 298.00,528.50 C298.67,528.71 299.39,528.83 300.10,528.80 C301.01,528.76 301.92,528.54 302.80,528.30 C303.72,528.04 304.60,527.63 305.50,527.30" fill="none" stroke="#1bb5f3" stroke-width="1.45" clip-path="url(#clipC1)" stroke-linejoin="round"/>
<path d="M165.80,676.30 C166.60,671.20 167.35,666.09 168.20,661.00 C168.98,656.36 169.81,651.72 170.70,647.10 C171.48,643.06 172.34,639.03 173.20,635.00 C173.98,631.36 174.85,627.74 175.60,624.10 C176.35,620.41 176.99,616.70 177.70,613.00 C178.35,609.60 179.07,606.21 179.70,602.80 C180.30,599.54 180.78,596.26 181.40,593.00 C181.88,590.49 182.35,587.97 183.00,585.50 C183.49,583.63 183.93,581.72 184.80,580.00 C185.29,579.03 185.97,577.93 187.00,577.60 C187.77,577.36 188.64,578.02 189.20,578.60 C189.97,579.39 190.54,580.43 190.80,581.50 C191.52,584.44 191.66,587.50 192.10,590.50 C192.56,593.67 193.04,596.83 193.50,600.00 C194.11,604.20 194.71,608.40 195.30,612.60 C195.88,616.73 196.45,620.86 197.00,625.00 C197.55,629.10 198.05,633.20 198.60,637.30 C199.15,641.37 199.75,645.43 200.30,649.50 C200.85,653.63 201.40,657.76 201.90,661.90 C202.46,666.53 202.97,671.17 203.50,675.80" fill="none" stroke="#2a1fb8" stroke-width="1.45" stroke-dasharray="1.2 3.1" clip-path="url(#clipC1)" stroke-linejoin="round"/>
<path d="M107.20,647.70 C108.07,652.47 108.99,657.22 109.80,662.00 C110.62,666.82 111.33,671.67 112.10,676.50" fill="none" stroke="#8cc43c" stroke-width="1.45" stroke-dasharray="8.3 3.6" clip-path="url(#clipC1)" stroke-linejoin="round"/>
<path d="M162.30,676.30 C163.40,671.87 164.46,667.42 165.60,663.00 C166.69,658.79 168.00,654.63 169.00,650.40 C169.97,646.30 170.66,642.13 171.50,638.00 C172.33,633.93 173.17,629.87 174.00,625.80 C174.70,622.37 175.39,618.93 176.10,615.50 C176.75,612.36 177.45,609.24 178.10,606.10 C178.69,603.24 179.26,600.37 179.80,597.50 C180.32,594.74 180.83,591.97 181.30,589.20 C182.16,584.11 182.79,578.97 183.80,573.90 C184.49,570.46 185.37,567.06 186.40,563.70 C186.85,562.24 187.36,560.77 188.20,559.50 C188.66,558.81 189.37,557.89 190.20,558.00 C191.05,558.12 191.38,559.26 191.80,560.00 C192.46,561.17 192.98,562.42 193.40,563.70 C194.35,566.63 195.14,569.61 195.90,572.60 C196.65,575.55 197.35,578.51 197.90,581.50 C198.51,584.81 198.94,588.16 199.40,591.50 C199.81,594.49 200.03,597.51 200.50,600.50 C201.10,604.35 202.03,608.15 202.60,612.00 C203.60,618.72 204.25,625.48 205.20,632.20 C205.88,636.98 206.70,641.74 207.50,646.50 C208.16,650.44 208.82,654.38 209.60,658.30 C210.25,661.55 211.12,664.76 211.80,668.00 C212.38,670.76 212.87,673.53 213.40,676.30" fill="none" stroke="#8cc43c" stroke-width="1.45" stroke-dasharray="8.3 3.6" clip-path="url(#clipC1)" stroke-linejoin="round"/>
<path d="M107.20,664.30 C108.13,665.07 109.12,665.77 110.00,666.60 C110.89,667.44 111.69,668.38 112.50,669.30 C113.36,670.28 114.25,671.24 115.00,672.30 C115.79,673.41 116.40,674.63 117.10,675.80" fill="none" stroke="#f7a21b" stroke-width="1.45" stroke-dasharray="6 2.9 1.3 2.9" clip-path="url(#clipC1)" stroke-linejoin="round"/>
<path d="M146.90,676.30 C147.87,672.87 148.79,669.42 149.80,666.00 C150.69,662.99 151.79,660.04 152.60,657.00 C153.53,653.53 154.20,650.00 155.00,646.50 C155.83,642.87 156.65,639.23 157.50,635.60 C158.05,633.23 158.54,630.84 159.20,628.50 C159.65,626.91 159.94,625.21 160.80,623.80 C161.26,623.04 162.15,622.56 163.00,622.30 C163.89,622.03 164.88,622.13 165.80,622.30 C166.68,622.47 167.51,622.88 168.30,623.30 C169.15,623.75 169.92,624.34 170.70,624.90 C171.55,625.51 172.32,626.23 173.20,626.80 C173.96,627.30 174.74,627.81 175.60,628.10 C176.36,628.35 177.21,628.55 178.00,628.40 C178.91,628.23 179.88,627.89 180.50,627.20 C181.62,625.94 182.32,624.34 183.00,622.80 C183.99,620.56 184.79,618.24 185.50,615.90 C186.19,613.63 186.60,611.29 187.20,609.00 C187.67,607.19 188.08,605.36 188.70,603.60 C189.12,602.42 189.59,601.23 190.30,600.20 C190.72,599.60 191.28,598.95 192.00,598.80 C192.99,598.59 194.01,599.00 195.00,599.20 C195.68,599.34 196.35,599.56 197.00,599.80 C198.01,600.16 199.09,600.43 200.00,601.00 C201.78,602.11 203.39,603.47 205.00,604.80 C206.86,606.33 208.59,608.01 210.40,609.60 C212.09,611.08 213.77,612.57 215.50,614.00 C217.27,615.47 219.04,616.95 220.90,618.30 C222.54,619.49 224.25,620.59 226.00,621.60 C227.72,622.59 229.45,623.60 231.30,624.30 C232.64,624.81 234.07,625.10 235.50,625.20 C237.00,625.30 238.53,625.21 240.00,624.90 C241.39,624.60 242.76,624.11 244.00,623.40 C245.13,622.75 246.09,621.84 247.00,620.90 C248.10,619.76 249.12,618.52 250.00,617.20 C250.86,615.91 251.61,614.53 252.20,613.10 C252.95,611.29 253.46,609.38 254.00,607.50 C254.63,605.32 255.18,603.11 255.70,600.90 C256.35,598.11 256.85,595.29 257.50,592.50 C258.02,590.26 258.42,587.97 259.20,585.80 C259.56,584.80 260.05,583.75 260.90,583.10 C261.46,582.67 262.30,582.88 263.00,582.90 C263.84,582.92 264.67,583.06 265.50,583.20 C266.31,583.33 267.12,583.45 267.90,583.70 C268.80,583.99 269.62,584.48 270.50,584.80 C271.35,585.11 272.20,585.51 273.10,585.60 C274.00,585.69 274.94,585.58 275.80,585.30 C276.71,585.00 277.53,584.46 278.30,583.90 C279.27,583.19 280.14,582.34 281.00,581.50 C281.91,580.61 282.74,579.64 283.60,578.70 C284.47,577.74 285.27,576.71 286.20,575.80 C287.01,575.01 287.81,574.15 288.80,573.60 C289.78,573.06 290.90,572.79 292.00,572.60 C293.22,572.39 294.47,572.55 295.70,572.40 C297.15,572.22 298.58,571.95 300.00,571.60 C301.85,571.15 303.67,570.53 305.50,570.00" fill="none" stroke="#f7a21b" stroke-width="1.45" stroke-dasharray="6 2.9 1.3 2.9" clip-path="url(#clipC1)" stroke-linejoin="round"/>
<path d="M117.40,676.30 C118.10,674.70 118.68,673.04 119.50,671.50 C120.49,669.64 121.63,667.85 122.80,666.10 C124.46,663.62 126.30,661.26 128.00,658.80 C129.94,655.99 131.72,653.08 133.70,650.30 C135.72,647.47 137.86,644.73 140.00,642.00 C141.96,639.50 144.05,637.10 146.00,634.60 C147.48,632.70 148.83,630.70 150.30,628.80 C151.23,627.60 152.05,626.28 153.20,625.30 C153.93,624.68 154.85,624.06 155.80,624.10 C156.67,624.14 157.47,624.81 158.00,625.50 C158.92,626.71 159.41,628.20 160.00,629.60 C160.81,631.54 161.45,633.54 162.20,635.50 C162.95,637.47 163.70,639.44 164.50,641.40 C165.30,643.38 166.06,645.38 167.00,647.30 C167.73,648.79 168.45,650.32 169.50,651.60 C170.31,652.59 171.38,653.38 172.50,654.00 C173.58,654.60 174.78,655.01 176.00,655.20 C176.96,655.35 178.01,655.38 178.90,655.00 C179.84,654.60 180.59,653.81 181.20,653.00 C181.98,651.98 182.50,650.78 183.00,649.60 C183.77,647.77 184.36,645.88 185.00,644.00 C185.73,641.88 186.36,639.72 187.10,637.60 C187.76,635.72 188.39,633.82 189.20,632.00 C189.79,630.68 190.41,629.34 191.30,628.20 C192.10,627.18 193.00,626.10 194.20,625.60 C195.06,625.24 196.10,625.55 197.00,625.80 C198.06,626.09 199.04,626.66 200.00,627.20 C201.05,627.79 201.99,628.54 203.00,629.20 C203.73,629.68 204.42,630.22 205.20,630.60 C206.63,631.29 208.03,632.17 209.60,632.40 C210.43,632.52 211.28,632.04 212.00,631.60 C212.95,631.02 213.78,630.25 214.50,629.40 C215.96,627.67 217.16,625.73 218.50,623.90 C219.86,622.03 221.17,620.12 222.60,618.30 C224.18,616.29 225.83,614.34 227.50,612.40 C229.33,610.27 231.26,608.22 233.10,606.10 C234.76,604.19 236.36,602.23 238.00,600.30 C239.82,598.16 241.73,596.08 243.50,593.90 C244.73,592.38 245.78,590.72 247.00,589.20 C248.11,587.82 249.27,586.47 250.50,585.20 C251.44,584.23 252.40,583.28 253.50,582.50 C254.25,581.97 255.10,581.52 256.00,581.30 C256.65,581.14 257.41,581.09 258.00,581.40 C259.13,582.00 259.94,583.06 260.90,583.90 C261.61,584.52 262.17,585.35 263.00,585.80 C263.69,586.18 264.53,586.44 265.30,586.30 C266.14,586.15 266.83,585.53 267.50,585.00 C268.28,584.39 268.90,583.60 269.60,582.90 C271.33,581.20 273.03,579.47 274.80,577.80 C276.00,576.67 277.17,575.49 278.50,574.50 C279.52,573.74 280.62,573.07 281.80,572.60 C282.81,572.19 283.92,572.05 285.00,571.90 C286.26,571.72 287.58,571.95 288.80,571.60 C290.29,571.17 291.60,570.27 293.00,569.60 C294.50,568.87 296.00,568.14 297.50,567.40 C298.84,566.74 300.13,566.00 301.50,565.40 C302.80,564.83 304.17,564.40 305.50,563.90" fill="none" stroke="#fb4e14" stroke-width="1.45" stroke-dasharray="14.2 3.4" clip-path="url(#clipC1)" stroke-linejoin="round"/>
<path d="M193.60,676.30 C193.90,675.93 194.03,675.20 194.50,675.20 C195.00,675.20 195.17,675.93 195.50,676.30" fill="none" stroke="#8c1ee0" stroke-width="1.45" clip-path="url(#clipC1)" stroke-linejoin="round"/>
<path d="M382.00,602.50 L382.70,575.00 L383.50,548.00 L384.20,528.00 L384.70,519.50 L385.30,518.30 L386.50,518.30 L387.20,521.00 L387.80,530.00 L388.40,548.00 L388.90,570.00 L389.30,583.50 L389.70,570.00 L390.20,545.00 L390.70,522.00 L391.00,535.00 L391.30,523.00 L391.60,535.50 L391.90,524.00 L392.20,535.00 L392.50,525.00 L392.80,534.50 L393.10,526.00 L393.40,534.00 L393.70,527.00 L394.00,533.00 L394.30,528.50 L394.60,531.50 L396.50,532.60 L398.50,534.60 L400.50,536.60 L402.50,538.50 L404.50,540.00 L406.50,540.90 L408.50,541.30 L577.50,541.30" fill="none" stroke="#1bb5f3" stroke-width="1.45" clip-path="url(#clipC2)" stroke-linejoin="round"/>
<path d="M386.80,676.50 L386.90,620.00 L387.00,561.00" fill="none" stroke="#8cc43c" stroke-width="1.45" stroke-dasharray="8.3 3.6" clip-path="url(#clipC2)" stroke-linejoin="round"/>
<path d="M386.50,676.50 L386.70,630.00 L386.90,600.00" fill="none" stroke="#2a1fb8" stroke-width="1.45" stroke-dasharray="1.2 3.1" clip-path="url(#clipC2)" stroke-linejoin="round"/>
<path d="M388.00,676.50 L388.30,674.50" fill="none" stroke="#8c1ee0" stroke-width="1.45" clip-path="url(#clipC2)" stroke-linejoin="round"/>
<path d="M385.10,676.50 L382.62,675.20 L385.34,673.90 L382.86,672.60 L385.58,671.30 L383.10,670.00 L385.83,668.70 L383.35,667.40 L386.07,666.10 L383.59,664.80 L386.31,663.50 L383.83,662.20 L386.55,660.90 L384.07,659.60 L386.79,658.30 L384.31,657.00 L387.03,655.70 L384.55,654.40 L387.25,653.10 L384.76,651.80 L387.46,650.50 L384.96,649.20 L387.67,647.90 L385.17,646.60 L387.88,645.30 L385.38,644.00 L388.08,642.70 L385.59,641.40 L388.29,640.10 L385.80,638.80 L388.50,637.50 L386.00,636.20 L388.71,634.90 L386.21,633.60 L388.92,632.30 L386.42,631.00 L389.13,629.70 L386.64,628.40 L389.35,627.10 L386.86,625.80 L389.57,624.50 L387.08,623.20 L389.79,621.90 L387.30,620.60 L390.01,619.30 L387.52,618.00 L390.23,616.70 L387.74,615.40 L390.45,614.10 L387.96,612.80 L390.67,611.50 L388.18,610.20 L390.90,608.90 L388.42,607.60 L391.14,606.30 L388.66,605.00 L391.38,603.70 L388.91,602.40 L391.63,601.10 L389.15,599.80 L391.87,598.50 L389.39,597.20 L392.11,595.90 L389.69,594.60 L392.46,593.30 L390.03,592.00 L392.81,590.70" fill="none" stroke="#f7a21b" stroke-width="1.3" stroke-dasharray="6 2.9 1.3 2.9" clip-path="url(#clipC2)" stroke-linejoin="round"/>
<path d="M384.50,676.50 L381.60,675.10 L384.71,673.70 L381.81,672.30 L384.92,670.90 L382.02,669.50 L385.13,668.10 L382.23,666.70 L385.33,665.30 L382.44,663.90 L385.54,662.50 L382.65,661.10 L385.75,659.70 L382.85,658.30 L385.96,656.90 L383.06,655.50 L386.16,654.10 L383.27,652.70 L386.37,651.30 L383.47,649.90 L386.57,648.50 L383.67,647.10 L386.77,645.70 L383.87,644.30 L386.97,642.90 L384.07,641.50 L387.17,640.10 L384.27,638.70 L387.37,637.30 L384.48,635.90 L387.58,634.50 L384.68,633.10 L387.78,631.70 L384.88,630.30 L388.00,628.90 L385.14,627.50 L388.27,626.10 L385.40,624.70 L388.54,623.30 L385.67,621.90 L388.80,620.50 L385.94,619.10 L389.07,617.70 L386.20,616.30 L389.33,614.90 L386.47,613.50 L389.60,612.10 L386.73,610.70 L389.88,609.30 L387.04,607.90 L390.20,606.50 L387.37,605.10 L390.53,603.70 L387.69,602.30 L390.85,600.90 L388.01,599.50 L391.17,598.10 L388.34,596.70 L391.54,595.30 L388.74,593.90 L391.94,592.50 L389.14,591.10" fill="none" stroke="#fb4e14" stroke-width="1.3" stroke-dasharray="14.2 3.4" clip-path="url(#clipC2)" stroke-linejoin="round"/>
<path d="M390.80,598.00 C391.27,593.67 391.65,589.32 392.20,585.00 C392.65,581.49 393.24,578.00 393.80,574.50 C394.54,569.83 395.21,565.14 396.10,560.50 C396.71,557.31 397.39,554.12 398.30,551.00 C398.86,549.11 399.54,547.22 400.50,545.50 C401.12,544.39 401.96,543.34 403.00,542.60 C403.86,541.99 404.96,541.79 406.00,541.60 C407.31,541.36 408.66,541.30 410.00,541.30 C465.83,541.20 521.67,541.30 577.50,541.30" fill="none" stroke="#f7a21b" stroke-width="1.45" stroke-dasharray="6 2.9 1.3 2.9" clip-path="url(#clipC2)" stroke-linejoin="round"/>
<path d="M390.10,600.00 C390.60,596.00 391.06,591.99 391.60,588.00 C392.13,584.09 392.68,580.19 393.30,576.30 C394.11,571.19 395.00,566.09 395.90,561.00 C396.50,557.59 397.06,554.18 397.80,550.80 C398.33,548.37 398.72,545.88 399.70,543.60 C400.22,542.38 401.19,541.37 402.20,540.50 C403.13,539.70 404.23,539.06 405.40,538.70 C406.84,538.25 408.39,538.11 409.90,538.10 C465.77,537.91 521.63,538.10 577.50,538.10" fill="none" stroke="#fb4e14" stroke-width="1.45" stroke-dasharray="14.2 3.4" clip-path="url(#clipC2)" stroke-linejoin="round"/>
</svg>
</body></html>
